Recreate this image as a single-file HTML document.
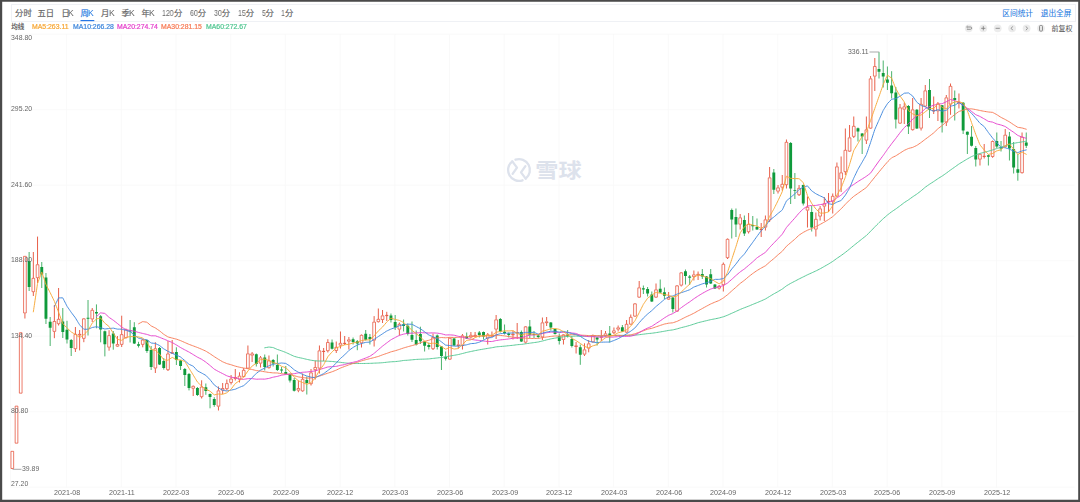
<!DOCTYPE html>
<html lang="zh"><head><meta charset="utf-8"><title>K线图</title><style>
html,body{margin:0;padding:0;background:#fff;}
body{width:1080px;height:502px;position:relative;overflow:hidden;font-family:"Liberation Sans",sans-serif;}
.tabbar{position:absolute;left:11px;top:4px;width:1064.6px;height:17.6px;border:0.8px solid #eff1f5;box-sizing:border-box;}
svg.chart{position:absolute;left:0;top:0;}
svg.chart text{font-family:"Liberation Sans","Noto Sans CJK SC",sans-serif;}
.t{position:absolute;white-space:nowrap;will-change:transform;}
.b{-webkit-text-stroke:0.22px currentColor;}
</style></head><body>
<div class="tabbar"></div>
<svg class="chart" width="1080" height="502" viewBox="0 0 1080 502">
<path fill="#4a4a4a" fill-rule="evenodd" d="M0 0H1080V502H0z M2.2 1.8V499.7H1078.2V1.8z"/>
<path d="M10.5 34.2 H1074.5 M10.5 109.7 H1074.5 M10.5 185.2 H1074.5 M10.5 260.7 H1074.5 M10.5 336.2 H1074.5 M10.5 411.7 H1074.5 M10.5 487.2 H1074.5 M66.6 34.2 V487.2 M121.3 34.2 V487.2 M176 34.2 V487.2 M230.7 34.2 V487.2 M285.4 34.2 V487.2 M340.1 34.2 V487.2 M394.8 34.2 V487.2 M449.5 34.2 V487.2 M504.2 34.2 V487.2 M558.9 34.2 V487.2 M613.6 34.2 V487.2 M668.3 34.2 V487.2 M723 34.2 V487.2 M777.7 34.2 V487.2 M832.4 34.2 V487.2 M887.1 34.2 V487.2 M941.8 34.2 V487.2 M996.5 34.2 V487.2" stroke="#f7f7f7" stroke-width="0.8" fill="none"/>
<path d="M10.5 34.2 V487.2" stroke="#f9f9f9" stroke-width="0.8" fill="none"/>
<g stroke="#dde2ec" fill="none" stroke-width="2.3" stroke-linecap="round" stroke-linejoin="round"><path d="M515.45 159.7 A10.9 10.9 0 0 1 525.7 178.6"/><path d="M522.55 180.3 A10.9 10.9 0 0 1 512.3 161.4"/><path d="M512.3 161.4 L517 167.6 L512.6 173.9"/><path d="M525.4 166.1 L521 172.4 L525.7 178.6"/></g>
<text transform="translate(535.3 177.6) scale(1.083 0.946)" x="0" y="0" font-size="21.4" font-weight="bold" fill="#dde2ec">雪球</text>
<path d="M24.92 313.3 V318.5 M33.34 252 V278 M33.34 292 V296 M37.54 236.6 V264.4 M37.54 278 V283 M54.37 305 V321.2 M54.37 331.7 V338.2 M58.58 288 V319 M58.58 324 V325.5 M75.41 327 V334 M75.41 349 V352 M79.62 330 V334 M79.62 335.4 V350.4 M83.82 318 V318.5 M83.82 338.7 V342.2 M92.24 308 V310 M92.24 319.3 V322 M109.07 330.2 V335.3 M109.07 347.5 V350.7 M117.48 336 V344.2 M117.48 346.5 V347 M121.69 315.7 V334.3 M121.69 344.7 V347 M125.9 328.5 V329.5 M125.9 338 V338.5 M142.73 339 V339.7 M142.73 344.7 V347.3 M155.35 342.2 V348.4 M155.35 368.4 V373 M167.97 341 V353.6 M167.97 370 V371 M172.18 340 V352.3 M172.18 353.6 V354 M193.21 385.5 V386 M193.21 388.6 V396 M201.63 380.3 V386.7 M201.63 397 V398.5 M218.46 386.5 V390.5 M218.46 406.5 V410.5 M222.67 383 V388.2 M222.67 390.5 V394 M226.87 379.5 V383.3 M226.87 389 V390.5 M231.08 375 V378.7 M231.08 382.8 V384.5 M235.29 369 V377.2 M235.29 378.8 V380.5 M239.49 372.3 V375.8 M239.49 379.5 V382.5 M243.7 368 V370 M243.7 376.8 V377.5 M247.91 345.5 V353.5 M247.91 368.5 V369 M252.12 352 V353.5 M252.12 355.5 V362 M260.53 356 V357.5 M260.53 363.5 V367.5 M268.95 355.5 V360.5 M268.95 368 V368.5 M298.4 380.5 V388.2 M298.4 390.5 V392.2 M302.6 373.5 V379 M302.6 391.2 V391.8 M311.02 369 V372.5 M311.02 384 V385.5 M315.23 360.5 V367.2 M315.23 370 V379.5 M319.43 345.5 V350.5 M319.43 368.5 V373.5 M323.64 348 V350.95 M323.64 351.85 V361 M327.85 339.2 V342.2 M327.85 351 V352.5 M336.26 341.5 V347 M336.26 350.8 V353 M340.47 331.5 V343 M340.47 345.5 V348.5 M344.68 336 V342.95 M344.68 343.85 V345 M348.88 337 V339.5 M348.88 341.5 V349.5 M361.51 334.5 V335 M361.51 343.2 V347.5 M374.13 316.1 V321.8 M374.13 340.5 V346.5 M378.34 308.5 V319 M378.34 322 V322.5 M382.54 310 V315.5 M382.54 319.8 V323 M386.75 311.8 V315 M386.75 316 V321 M399.37 322.5 V324 M399.37 329.5 V335.5 M433.03 333.5 V337.2 M433.03 349 V350 M449.86 337.5 V338 M449.86 359.5 V360 M458.27 340 V344.5 M458.27 345.8 V348.5 M462.48 334 V335.5 M462.48 345.8 V349.5 M470.9 332 V335 M470.9 337.5 V338.5 M475.1 332 V335 M475.1 336.5 V337.5 M487.72 333 V334.5 M487.72 338.5 V344.5 M491.93 331.5 V335.5 M491.93 336.5 V337 M496.14 315 V319.5 M496.14 329.5 V339 M512.97 330.5 V334 M512.97 335.2 V339.5 M517.18 323 V332.4 M517.18 333.3 V339 M525.59 326 V326.5 M525.59 342.5 V343.5 M542.42 317.5 V322.5 M542.42 337.2 V340 M546.63 317 V321.5 M546.63 323 V326 M563.46 334 V334.5 M563.46 339.8 V344.5 M576.08 342 V345.5 M576.08 346.8 V353.5 M584.49 343.3 V349.5 M584.49 354.5 V356 M588.7 340 V343.5 M588.7 348.5 V352.3 M592.91 334.5 V335.8 M592.91 342.2 V342.7 M601.32 330 V336.5 M601.32 337.5 V341 M605.53 331 V333.5 M605.53 336 V336.5 M613.94 327.5 V330.5 M613.94 333 V334 M618.15 325.5 V327.5 M618.15 329.5 V331.5 M626.57 320 V324 M626.57 332.5 V333 M630.77 314.5 V317 M630.77 324.5 V325 M634.98 303 V303.5 M634.98 316.5 V317 M639.19 281 V287.5 M639.19 297.5 V298 M656.02 283.5 V289.5 M656.02 297.5 V298 M668.64 292 V297.2 M668.64 299.5 V300 M677.05 285 V285.5 M677.05 311.5 V312 M681.26 272 V272.5 M681.26 285.5 V286.5 M693.88 270.5 V274.5 M693.88 277 V280.5 M698.09 271.5 V274 M698.09 275.5 V280 M719.13 285 V286 M719.13 288.5 V289.5 M723.33 262.5 V264 M723.33 285 V291.5 M727.54 238.5 V239 M727.54 258 V259 M740.16 214 V217.5 M740.16 224.5 V229.5 M748.58 213 V224 M748.58 232 V233.5 M761.2 223 V229 M761.2 230 V237 M765.41 215.5 V219.5 M765.41 227.5 V230.5 M769.61 167 V177.5 M769.61 220.3 V222 M778.03 185 V187.5 M778.03 191.5 V193.5 M782.24 175 V184 M782.24 187.5 V190.5 M786.44 139.5 V142 M786.44 185 V188.5 M799.07 185 V188 M799.07 195 V196 M807.48 196.5 V207 M807.48 210.5 V227.5 M815.89 212.5 V219 M815.89 229.5 V236.5 M820.1 206 V208.5 M820.1 216.5 V220.5 M824.31 197 V203.5 M824.31 206.5 V221 M828.52 193 V201 M828.52 202 V212 M832.72 193.5 V196 M832.72 201.5 V213.5 M836.93 162.5 V166.5 M836.93 196.5 V197 M841.14 156.5 V172.5 M841.14 179.3 V192 M845.35 128.5 V150 M845.35 172 V175 M849.55 125 V137.5 M849.55 151.5 V152 M853.76 116.5 V126 M853.76 136.7 V138 M866.38 116.5 V129.5 M866.38 140.5 V144 M870.59 76 V78.5 M870.59 128.5 V129 M874.8 58 V66.2 M874.8 76.5 V91 M900.04 104 V107.5 M900.04 123.5 V124 M904.25 102.5 V106.5 M904.25 109.5 V124 M912.66 98 V109.5 M912.66 130 V130.5 M921.08 98 V104 M921.08 128.5 V130.5 M925.28 85 V90.5 M925.28 106.5 V107 M933.7 96.5 V110 M933.7 111.2 V114 M937.91 102 V103.5 M937.91 111.2 V121 M946.32 95 V97.5 M946.32 122.5 V126 M950.53 83.5 V86 M950.53 104.5 V114.8 M958.94 93.5 V102 M958.94 103 V108.5 M979.98 153.5 V154 M979.98 159.5 V165.5 M984.19 144 V155.8 M984.19 156.8 V158.5 M992.6 140.5 V141.2 M992.6 156.8 V157.8 M1005.22 129 V134.8 M1005.22 147 V147.5 M1022.05 132.5 V136.8 M1022.05 173 V173.5" stroke="#e2361b" stroke-width="0.8" fill="none"/>
<path d="M10.96 451.33 h2.69 v17.14 h-2.69 z M15.16 406.13 h2.69 v37.04 h-2.69 z M19.37 332.73 h2.69 v60.44 h-2.69 z M23.58 256.33 h2.69 v56.64 h-2.69 z M31.99 278.33 h2.69 v13.34 h-2.69 z M36.2 264.73 h2.69 v12.94 h-2.69 z M53.03 321.53 h2.69 v9.84 h-2.69 z M57.24 319.33 h2.69 v4.34 h-2.69 z M74.06 334.33 h2.69 v14.34 h-2.69 z M78.27 334.33 h2.69 v0.74 h-2.69 z M82.48 318.83 h2.69 v19.54 h-2.69 z M90.89 310.33 h2.69 v8.64 h-2.69 z M107.72 335.63 h2.69 v11.54 h-2.69 z M116.14 344.53 h2.69 v1.64 h-2.69 z M120.34 334.63 h2.69 v9.74 h-2.69 z M124.55 329.83 h2.69 v7.84 h-2.69 z M141.38 340.03 h2.69 v4.34 h-2.69 z M154 348.73 h2.69 v19.34 h-2.69 z M166.63 353.93 h2.69 v15.74 h-2.69 z M170.83 352.63 h2.69 v0.64 h-2.69 z M191.87 386.33 h2.69 v1.94 h-2.69 z M200.28 387.03 h2.69 v9.64 h-2.69 z M217.11 390.83 h2.69 v15.34 h-2.69 z M221.32 388.53 h2.69 v1.64 h-2.69 z M225.53 383.63 h2.69 v5.04 h-2.69 z M229.73 379.03 h2.69 v3.44 h-2.69 z M233.94 377.53 h2.69 v0.94 h-2.69 z M238.15 376.13 h2.69 v3.04 h-2.69 z M242.36 370.33 h2.69 v6.14 h-2.69 z M246.56 353.83 h2.69 v14.34 h-2.69 z M250.77 353.83 h2.69 v1.34 h-2.69 z M259.19 357.83 h2.69 v5.34 h-2.69 z M267.6 360.83 h2.69 v6.84 h-2.69 z M297.05 388.53 h2.69 v1.64 h-2.69 z M301.26 379.33 h2.69 v11.54 h-2.69 z M309.67 372.83 h2.69 v10.84 h-2.69 z M313.88 367.53 h2.69 v2.14 h-2.69 z M318.09 350.83 h2.69 v17.34 h-2.69 z M322.3 351.28 h2.69 v0.24 h-2.69 z M326.5 342.53 h2.69 v8.14 h-2.69 z M334.92 347.33 h2.69 v3.14 h-2.69 z M339.12 343.33 h2.69 v1.84 h-2.69 z M343.33 343.28 h2.69 v0.24 h-2.69 z M347.54 339.83 h2.69 v1.34 h-2.69 z M360.16 335.33 h2.69 v7.54 h-2.69 z M372.78 322.13 h2.69 v18.04 h-2.69 z M376.99 319.33 h2.69 v2.34 h-2.69 z M381.2 315.83 h2.69 v3.64 h-2.69 z M385.4 315.33 h2.69 v0.34 h-2.69 z M398.03 324.33 h2.69 v4.84 h-2.69 z M431.69 337.53 h2.69 v11.14 h-2.69 z M448.51 338.33 h2.69 v20.84 h-2.69 z M456.93 344.83 h2.69 v0.64 h-2.69 z M461.14 335.83 h2.69 v9.64 h-2.69 z M469.55 335.33 h2.69 v1.84 h-2.69 z M473.76 335.33 h2.69 v0.84 h-2.69 z M486.38 334.83 h2.69 v3.34 h-2.69 z M490.59 335.83 h2.69 v0.34 h-2.69 z M494.79 319.83 h2.69 v9.34 h-2.69 z M511.62 334.33 h2.69 v0.54 h-2.69 z M515.83 332.73 h2.69 v0.24 h-2.69 z M524.25 326.83 h2.69 v15.34 h-2.69 z M541.07 322.83 h2.69 v14.04 h-2.69 z M545.28 321.83 h2.69 v0.84 h-2.69 z M562.11 334.83 h2.69 v4.64 h-2.69 z M574.73 345.83 h2.69 v0.64 h-2.69 z M583.15 349.83 h2.69 v4.34 h-2.69 z M587.36 343.83 h2.69 v4.34 h-2.69 z M591.56 336.13 h2.69 v5.74 h-2.69 z M599.98 336.83 h2.69 v0.34 h-2.69 z M604.18 333.83 h2.69 v1.84 h-2.69 z M612.6 330.83 h2.69 v1.84 h-2.69 z M616.81 327.83 h2.69 v1.34 h-2.69 z M625.22 324.33 h2.69 v7.84 h-2.69 z M629.43 317.33 h2.69 v6.84 h-2.69 z M633.64 303.83 h2.69 v12.34 h-2.69 z M637.84 287.83 h2.69 v9.34 h-2.69 z M654.67 289.83 h2.69 v7.34 h-2.69 z M667.29 297.53 h2.69 v1.64 h-2.69 z M675.71 285.83 h2.69 v25.34 h-2.69 z M679.92 272.83 h2.69 v12.34 h-2.69 z M692.54 274.83 h2.69 v1.84 h-2.69 z M696.74 274.33 h2.69 v0.84 h-2.69 z M717.78 286.33 h2.69 v1.84 h-2.69 z M721.99 264.33 h2.69 v20.34 h-2.69 z M726.2 239.33 h2.69 v18.34 h-2.69 z M738.82 217.83 h2.69 v6.34 h-2.69 z M747.23 224.33 h2.69 v7.34 h-2.69 z M759.85 229.33 h2.69 v0.34 h-2.69 z M764.06 219.83 h2.69 v7.34 h-2.69 z M768.27 177.83 h2.69 v42.14 h-2.69 z M776.68 187.83 h2.69 v3.34 h-2.69 z M780.89 184.33 h2.69 v2.84 h-2.69 z M785.1 142.33 h2.69 v42.34 h-2.69 z M797.72 188.33 h2.69 v6.34 h-2.69 z M806.13 207.33 h2.69 v2.84 h-2.69 z M814.55 219.33 h2.69 v9.84 h-2.69 z M818.76 208.83 h2.69 v7.34 h-2.69 z M822.96 203.83 h2.69 v2.34 h-2.69 z M827.17 201.33 h2.69 v0.34 h-2.69 z M831.38 196.33 h2.69 v4.84 h-2.69 z M835.59 166.83 h2.69 v29.34 h-2.69 z M839.79 172.83 h2.69 v6.14 h-2.69 z M844 150.33 h2.69 v21.34 h-2.69 z M848.21 137.83 h2.69 v13.34 h-2.69 z M852.42 126.33 h2.69 v10.04 h-2.69 z M865.04 129.83 h2.69 v10.34 h-2.69 z M869.24 78.83 h2.69 v49.34 h-2.69 z M873.45 66.53 h2.69 v9.64 h-2.69 z M898.7 107.83 h2.69 v15.34 h-2.69 z M902.9 106.83 h2.69 v2.34 h-2.69 z M911.32 109.83 h2.69 v19.84 h-2.69 z M919.73 104.33 h2.69 v23.84 h-2.69 z M923.94 90.83 h2.69 v15.34 h-2.69 z M932.35 110.33 h2.69 v0.54 h-2.69 z M936.56 103.83 h2.69 v7.04 h-2.69 z M944.98 97.83 h2.69 v24.34 h-2.69 z M949.18 86.33 h2.69 v17.84 h-2.69 z M957.6 102.33 h2.69 v0.34 h-2.69 z M978.63 154.33 h2.69 v4.84 h-2.69 z M982.84 156.13 h2.69 v0.34 h-2.69 z M991.26 141.53 h2.69 v14.94 h-2.69 z M1003.88 135.13 h2.69 v11.54 h-2.69 z M1020.71 137.13 h2.69 v35.54 h-2.69 z" stroke="#e2361b" stroke-width="0.66" fill="#fff"/>
<path d="M29.13 252 V291 M41.75 262 V288 M45.96 273 V324 M50.17 317 V346 M62.79 308 V338 M66.99 320.8 V343.5 M71.2 339 V356 M88.03 300 V335.5 M96.45 304.4 V328.3 M100.65 315 V342.3 M104.86 330.5 V356.4 M113.28 331 V349.7 M130.1 320 V342.5 M134.31 322.2 V344 M138.52 341.8 V347.5 M146.93 339.5 V352.9 M151.14 346 V370 M159.56 347 V365 M163.76 358 V369.6 M176.38 347.3 V365 M180.59 360 V370 M184.8 368 V386 M189.01 373 V390.4 M197.42 387 V396 M205.84 383.5 V394.8 M210.04 393.5 V408.3 M214.25 397.2 V406.8 M256.32 353.5 V366.5 M264.74 354.5 V370.5 M273.15 359 V366.5 M277.36 354.5 V371 M281.57 367 V373 M285.77 366 V374.5 M289.98 373.5 V382.5 M294.19 378 V391.5 M306.81 376.5 V394.5 M332.05 339.5 V349.5 M353.09 337.5 V344.5 M357.3 340 V350.2 M365.71 330 V340.5 M369.92 334 V344.5 M390.96 313.5 V322.5 M395.16 315 V330 M403.58 319.5 V331.5 M407.79 323.5 V335.5 M411.99 321.5 V342 M416.2 330.5 V345.5 M420.41 326.7 V344 M424.62 341 V351.5 M428.82 342.5 V349.5 M437.24 334.5 V349.5 M441.44 346 V370 M445.65 351.5 V360.5 M454.07 338 V346 M466.69 332.5 V339 M479.31 331 V337.5 M483.52 331.5 V339.5 M500.35 318 V332.5 M504.55 324.5 V334.5 M508.76 332.5 V337.5 M521.38 330.5 V342 M529.8 320 V338.5 M534.01 331 V338 M538.21 334 V338.5 M550.83 322 V330.5 M555.04 328.5 V334.5 M559.25 333.5 V344.5 M567.66 330 V337.5 M571.87 336 V347.5 M580.29 344.5 V364.8 M597.11 337 V345.5 M609.74 326 V342.5 M622.36 325 V332 M643.39 285.5 V294 M647.6 287 V296.5 M651.81 291.5 V302 M660.22 279.5 V293 M664.43 287.5 V299 M672.85 297 V312.5 M685.47 269.5 V284.5 M689.68 275 V285 M702.3 269 V279 M706.5 276 V287.5 M710.71 269 V284 M714.92 284 V289 M731.75 208.5 V238.5 M735.96 208.5 V237 M744.37 215.5 V236 M752.78 216 V230.5 M756.99 218.5 V230 M773.82 169 V194 M790.65 142 V204 M794.86 173 V199 M803.27 184.5 V205.5 M811.69 206 V231.5 M857.97 127.5 V141.5 M862.17 133 V154 M879 52.2 V78.5 M883.21 60.5 V87.5 M887.42 66.5 V90 M891.63 71.2 V98.5 M895.83 87 V128.5 M908.45 105 V134 M916.87 109 V129 M929.49 79 V118 M942.11 105 V132.5 M954.74 90.5 V120.5 M963.15 102 V134 M967.36 131.5 V154 M971.56 126 V146.5 M975.77 146 V166.5 M988.39 154.5 V165.5 M996.81 132.5 V148 M1001.02 141 V151.5 M1009.43 132 V160.5 M1013.64 142 V173.5 M1017.84 154 V180.7 M1026.26 132.5 V148" stroke="#0f9a3b" stroke-width="0.75" fill="none"/>
<path d="M27.68 261 h2.9 v26 h-2.9 z M40.3 267 h2.9 v7.4 h-2.9 z M44.51 277.4 h2.9 v41.4 h-2.9 z M48.72 321.7 h2.9 v6 h-2.9 z M61.34 321.5 h2.9 v10.5 h-2.9 z M65.54 329.7 h2.9 v9.8 h-2.9 z M69.75 340 h2.9 v8 h-2.9 z M86.58 317.75 h2.9 v0.9 h-2.9 z M95 312 h2.9 v1.6 h-2.9 z M99.2 316.3 h2.9 v13.2 h-2.9 z M103.41 331.3 h2.9 v12.9 h-2.9 z M111.83 333.5 h2.9 v10 h-2.9 z M128.65 330.5 h2.9 v1 h-2.9 z M132.86 327.2 h2.9 v16.3 h-2.9 z M137.07 344.3 h2.9 v1.5 h-2.9 z M145.48 340 h2.9 v11 h-2.9 z M149.69 350 h2.9 v17 h-2.9 z M158.11 348.1 h2.9 v16.3 h-2.9 z M162.31 361 h2.9 v7 h-2.9 z M174.93 352 h2.9 v8 h-2.9 z M179.14 360.6 h2.9 v5.4 h-2.9 z M183.35 369 h2.9 v6 h-2.9 z M187.56 374 h2.9 v14 h-2.9 z M195.97 388 h2.9 v7 h-2.9 z M204.39 387.3 h2.9 v3.6 h-2.9 z M208.59 394.1 h2.9 v2.9 h-2.9 z M212.8 399 h2.9 v5.9 h-2.9 z M254.87 354.2 h2.9 v9.8 h-2.9 z M263.29 357.5 h2.9 v9.5 h-2.9 z M271.7 360 h2.9 v3.5 h-2.9 z M275.91 365 h2.9 v5 h-2.9 z M280.12 369.5 h2.9 v1 h-2.9 z M284.32 371.9 h2.9 v2.1 h-2.9 z M288.53 374.2 h2.9 v6.3 h-2.9 z M292.74 380 h2.9 v10.8 h-2.9 z M305.36 380 h2.9 v3 h-2.9 z M330.6 342.5 h2.9 v6.3 h-2.9 z M351.64 339.2 h2.9 v2.8 h-2.9 z M355.85 341.2 h2.9 v2.3 h-2.9 z M364.26 333.8 h2.9 v6 h-2.9 z M368.47 337 h2.9 v2 h-2.9 z M389.51 315.5 h2.9 v4.5 h-2.9 z M393.71 322 h2.9 v5.5 h-2.9 z M402.13 324.3 h2.9 v1.7 h-2.9 z M406.34 325.7 h2.9 v8.3 h-2.9 z M410.54 335 h2.9 v4.8 h-2.9 z M414.75 340 h2.9 v4.5 h-2.9 z M418.96 334 h2.9 v7.3 h-2.9 z M423.17 341.5 h2.9 v4.3 h-2.9 z M427.37 345 h2.9 v2 h-2.9 z M435.79 335.5 h2.9 v11.5 h-2.9 z M439.99 346.5 h2.9 v9.5 h-2.9 z M444.2 356.8 h2.9 v2 h-2.9 z M452.62 338.5 h2.9 v7 h-2.9 z M465.24 336.5 h2.9 v2 h-2.9 z M477.86 332.5 h2.9 v2.5 h-2.9 z M482.07 332 h2.9 v4.5 h-2.9 z M498.9 319 h2.9 v12.5 h-2.9 z M503.1 331.8 h2.9 v1.4 h-2.9 z M507.31 333.5 h2.9 v1.5 h-2.9 z M519.93 332 h2.9 v9.5 h-2.9 z M528.35 326.5 h2.9 v8.3 h-2.9 z M532.56 334 h2.9 v1 h-2.9 z M536.76 335.5 h2.9 v1.5 h-2.9 z M549.38 322.5 h2.9 v5 h-2.9 z M553.59 329 h2.9 v5 h-2.9 z M557.8 336.2 h2.9 v4.8 h-2.9 z M566.21 334.5 h2.9 v1.7 h-2.9 z M570.42 339 h2.9 v7 h-2.9 z M578.84 347.2 h2.9 v7.6 h-2.9 z M595.66 337.5 h2.9 v2 h-2.9 z M608.29 333.5 h2.9 v2.3 h-2.9 z M620.91 327.2 h2.9 v4.3 h-2.9 z M641.94 288.2 h2.9 v1.3 h-2.9 z M646.15 289 h2.9 v4.5 h-2.9 z M650.36 294.5 h2.9 v7 h-2.9 z M658.77 288.8 h2.9 v3.7 h-2.9 z M662.98 292.2 h2.9 v3.6 h-2.9 z M671.4 297.5 h2.9 v11.5 h-2.9 z M684.02 271.2 h2.9 v4.8 h-2.9 z M688.23 276.5 h2.9 v1.3 h-2.9 z M700.85 274 h2.9 v2.5 h-2.9 z M705.05 276.5 h2.9 v8 h-2.9 z M709.26 274.2 h2.9 v9.3 h-2.9 z M713.47 284.5 h2.9 v4 h-2.9 z M730.3 210 h2.9 v9.5 h-2.9 z M734.51 217 h2.9 v7.5 h-2.9 z M742.92 220 h2.9 v13.5 h-2.9 z M751.33 225 h2.9 v1.2 h-2.9 z M755.54 227 h2.9 v2.5 h-2.9 z M772.37 172.5 h2.9 v17.3 h-2.9 z M789.2 143 h2.9 v45.5 h-2.9 z M793.41 189.95 h2.9 v0.9 h-2.9 z M801.82 185 h2.9 v18.5 h-2.9 z M810.24 212 h2.9 v15.5 h-2.9 z M856.52 128.2 h2.9 v3.3 h-2.9 z M860.72 133.5 h2.9 v3 h-2.9 z M877.55 69 h2.9 v2.8 h-2.9 z M881.76 73 h2.9 v3.5 h-2.9 z M885.97 79.5 h2.9 v3.3 h-2.9 z M890.18 85.5 h2.9 v7.8 h-2.9 z M894.38 92.5 h2.9 v27 h-2.9 z M907 106 h2.9 v20.5 h-2.9 z M915.42 109.8 h2.9 v18.7 h-2.9 z M928.04 90 h2.9 v20 h-2.9 z M940.66 105.3 h2.9 v17.2 h-2.9 z M953.29 98 h2.9 v2 h-2.9 z M961.7 102.8 h2.9 v27.7 h-2.9 z M965.91 131.8 h2.9 v3 h-2.9 z M970.11 136.8 h2.9 v9 h-2.9 z M974.32 148 h2.9 v11.5 h-2.9 z M986.94 155.2 h2.9 v1.6 h-2.9 z M995.36 141 h2.9 v5.5 h-2.9 z M999.57 147 h2.9 v1.5 h-2.9 z M1007.98 136.5 h2.9 v12 h-2.9 z M1012.19 149 h2.9 v18.5 h-2.9 z M1016.39 169.2 h2.9 v3.6 h-2.9 z M1024.81 142.5 h2.9 v3.3 h-2.9 z" fill="#0f9a3b"/>
<path d="M264.74 347.79 C264.74 347.79 268.95 347.03 268.95 347.03 C268.95 347.03 273.15 347.55 273.15 347.55 C273.15 347.55 277.36 349.45 277.36 349.45 C277.36 349.45 281.57 350.84 281.57 350.84 C281.57 350.84 285.77 352.44 285.77 352.44 C285.77 352.44 289.98 354.38 289.98 354.38 C289.98 354.38 294.19 356.32 294.19 356.32 C294.19 356.32 298.4 357.48 298.4 357.48 C298.4 357.48 302.6 358.33 302.6 358.33 C302.6 358.33 306.81 359.36 306.81 359.36 C306.81 359.36 311.02 360.25 311.02 360.25 C311.02 360.25 315.23 360.84 315.23 360.84 C315.23 360.84 319.43 361.02 319.43 361.02 C319.43 361.02 323.64 361.07 323.64 361.07 C323.64 361.07 327.85 361.21 327.85 361.21 C327.85 361.21 332.05 361.45 332.05 361.45 C332.05 361.45 336.26 361.93 336.26 361.93 C336.26 361.93 340.47 362.34 340.47 362.34 C340.47 362.34 344.68 362.89 344.68 362.89 C344.68 362.89 348.88 363.32 348.88 363.32 C348.88 363.32 353.09 363.53 353.09 363.53 C353.09 363.53 357.3 363.52 357.3 363.52 C357.3 363.52 361.51 363.51 361.51 363.51 C361.51 363.51 365.71 363.45 365.71 363.45 C365.71 363.45 369.92 363.36 369.92 363.36 C369.92 363.36 374.13 363.15 374.13 363.15 C374.13 363.15 378.34 362.98 378.34 362.98 C378.34 362.98 382.54 362.71 382.54 362.71 C382.54 362.71 386.75 362.24 386.75 362.24 C386.75 362.24 390.96 361.81 390.96 361.81 C390.96 361.81 395.16 361.6 395.16 361.6 C395.16 361.6 399.37 361.15 399.37 361.15 C399.37 361.15 403.58 360.47 403.58 360.47 C403.58 360.47 407.79 360.23 407.79 360.23 C407.79 360.23 411.99 359.82 411.99 359.82 C411.99 359.82 416.2 359.43 416.2 359.43 C416.2 359.43 420.41 359.22 420.41 359.22 C420.41 359.22 424.62 359.12 424.62 359.12 C424.62 359.12 428.82 358.9 428.82 358.9 C428.82 358.9 433.03 358.42 433.03 358.42 C433.03 358.42 437.24 357.95 437.24 357.95 C437.24 357.95 441.44 357.42 441.44 357.42 C441.44 357.42 445.65 356.97 445.65 356.97 C445.65 356.97 449.86 356.02 449.86 356.02 C449.86 356.02 454.07 355.33 454.07 355.33 C454.07 355.33 458.27 354.56 458.27 354.56 C458.27 354.56 462.48 353.53 462.48 353.53 C462.48 353.53 466.69 352.42 466.69 352.42 C466.69 352.42 470.9 351.5 470.9 351.5 C470.9 351.5 475.1 350.61 475.1 350.61 C475.1 350.61 479.31 349.81 479.31 349.81 C479.31 349.81 483.52 349.1 483.52 349.1 C483.52 349.1 487.72 348.39 487.72 348.39 C487.72 348.39 491.93 347.72 491.93 347.72 C491.93 347.72 496.14 346.88 496.14 346.88 C496.14 346.88 500.35 346.51 500.35 346.51 C500.35 346.51 504.55 346.17 504.55 346.17 C504.55 346.17 508.76 345.69 508.76 345.69 C508.76 345.69 512.97 345.3 512.97 345.3 C512.97 345.3 517.18 344.72 517.18 344.72 C517.18 344.72 521.38 344.41 521.38 344.41 C521.38 344.41 525.59 343.79 525.59 343.79 C525.59 343.79 529.8 343.2 529.8 343.2 C529.8 343.2 534.01 342.61 534.01 342.61 C534.01 342.61 538.21 342 538.21 342 C538.21 342 542.42 341.03 542.42 341.03 C542.42 341.03 546.63 339.87 546.63 339.87 C546.63 339.87 550.83 338.86 550.83 338.86 C550.83 338.86 555.04 338.11 555.04 338.11 C555.04 338.11 559.25 337.41 559.25 337.41 C559.25 337.41 563.46 336.78 563.46 336.78 C563.46 336.78 567.66 336.26 567.66 336.26 C567.66 336.26 571.87 336.19 571.87 336.19 C571.87 336.19 576.08 336.1 576.08 336.1 C576.08 336.1 580.29 336.31 580.29 336.31 C580.29 336.31 584.49 336.32 584.49 336.32 C584.49 336.32 588.7 336.26 588.7 336.26 C588.7 336.26 592.91 336.14 592.91 336.14 C592.91 336.14 597.11 336.08 597.11 336.08 C597.11 336.08 601.32 336.03 601.32 336.03 C601.32 336.03 605.53 335.89 605.53 335.89 C605.53 335.89 609.74 335.76 609.74 335.76 C609.74 335.76 613.94 335.69 613.94 335.69 C613.94 335.69 618.15 335.48 618.15 335.48 C618.15 335.48 622.36 335.35 622.36 335.35 C622.36 335.35 626.57 335.39 626.57 335.39 C626.57 335.39 630.77 335.36 630.77 335.36 C630.77 335.36 634.98 335.16 634.98 335.16 C634.98 335.16 639.19 334.7 639.19 334.7 C639.19 334.7 643.39 334.19 643.39 334.19 C643.39 334.19 647.6 333.62 647.6 333.62 C647.6 333.62 651.81 333.25 651.81 333.25 C651.81 333.25 656.02 332.64 656.02 332.64 C656.02 332.64 660.22 331.95 660.22 331.95 C660.22 331.95 664.43 331.22 664.43 331.22 C664.43 331.22 668.64 330.43 668.64 330.43 C668.64 330.43 672.85 329.89 672.85 329.89 C672.85 329.89 677.05 328.88 677.05 328.88 C677.05 328.88 681.26 327.64 681.26 327.64 C681.26 327.64 685.47 326.62 685.47 326.62 C685.47 326.62 689.68 325.47 689.68 325.47 C689.68 325.47 693.88 324.11 693.88 324.11 C693.88 324.11 698.09 322.7 698.09 322.7 C698.09 322.7 702.3 321.67 702.3 321.67 C702.3 321.67 706.5 320.66 706.5 320.66 C706.5 320.66 710.71 319.64 710.71 319.64 C710.71 319.64 714.92 318.86 714.92 318.86 C714.92 318.86 719.13 317.98 719.13 317.98 C719.13 317.98 723.33 316.8 723.33 316.8 C723.33 316.8 727.54 315.2 727.54 315.2 C727.54 315.2 731.75 313.27 731.75 313.27 C731.75 313.27 735.96 311.41 735.96 311.41 C735.96 311.41 740.16 309.46 740.16 309.46 C740.16 309.46 744.37 307.76 744.37 307.76 C744.37 307.76 748.58 306.17 748.58 306.17 C748.58 306.17 752.78 304.41 752.78 304.41 C752.78 304.41 756.99 302.68 756.99 302.68 C756.99 302.68 761.2 300.92 761.2 300.92 C761.2 300.92 765.41 299.01 765.41 299.01 C765.41 299.01 769.61 296.42 769.61 296.42 C769.61 296.42 773.82 293.9 773.82 293.9 C773.82 293.9 778.03 291.58 778.03 291.58 C778.03 291.58 782.24 289.06 782.24 289.06 C782.24 289.06 786.44 285.85 786.44 285.85 C786.44 285.85 790.65 283.37 790.65 283.37 C790.65 283.37 794.86 281.18 794.86 281.18 C794.86 281.18 799.07 278.95 799.07 278.95 C799.07 278.95 803.27 276.89 803.27 276.89 C803.27 276.89 807.48 274.77 807.48 274.77 C807.48 274.77 811.69 272.88 811.69 272.88 C811.69 272.88 815.89 270.95 815.89 270.95 C815.89 270.95 820.1 268.82 820.1 268.82 C820.1 268.82 824.31 266.45 824.31 266.45 C824.31 266.45 828.52 264.04 828.52 264.04 C828.52 264.04 832.72 261.4 832.72 261.4 C832.72 261.4 836.93 258.35 836.93 258.35 C836.93 258.35 841.14 255.5 841.14 255.5 C841.14 255.5 845.35 252.4 845.35 252.4 C845.35 252.4 849.55 249.03 849.55 249.03 C849.55 249.03 853.76 245.52 853.76 245.52 C853.76 245.52 857.97 242.16 857.97 242.16 C857.97 242.16 862.17 238.84 862.17 238.84 C862.17 238.84 866.38 235.49 866.38 235.49 C866.38 235.49 870.59 231.34 870.59 231.34 C870.59 231.34 874.8 226.91 874.8 226.91 C874.8 226.91 879 222.71 879 222.71 C879 222.71 883.21 218.7 883.21 218.7 C883.21 218.7 887.42 215.02 887.42 215.02 C887.42 215.02 891.63 211.79 891.63 211.79 C891.63 211.79 895.83 208.95 895.83 208.95 C895.83 208.95 900.04 205.85 900.04 205.85 C900.04 205.85 904.25 202.6 904.25 202.6 C904.25 202.6 908.45 199.89 908.45 199.89 C908.45 199.89 912.66 196.84 912.66 196.84 C912.66 196.84 916.87 194.05 916.87 194.05 C916.87 194.05 921.08 190.83 921.08 190.83 C921.08 190.83 925.28 187.19 925.28 187.19 C925.28 187.19 929.49 184.26 929.49 184.26 C929.49 184.26 933.7 181.55 933.7 181.55 C933.7 181.55 937.91 178.68 937.91 178.68 C937.91 178.68 942.11 176.09 942.11 176.09 C942.11 176.09 946.32 173.14 946.32 173.14 C946.32 173.14 950.53 170.01 950.53 170.01 C950.53 170.01 954.74 167.06 954.74 167.06 C954.74 167.06 958.94 164.02 958.94 164.02 C958.94 164.02 963.15 161.47 963.15 161.47 C963.15 161.47 967.36 158.91 967.36 158.91 C967.36 158.91 971.56 156.57 971.56 156.57 C971.56 156.57 975.77 154.83 975.77 154.83 C975.77 154.83 979.98 153.42 979.98 153.42 C979.98 153.42 984.19 152.35 984.19 152.35 C984.19 152.35 988.39 151.23 988.39 151.23 C988.39 151.23 992.6 149.95 992.6 149.95 C992.6 149.95 996.81 148.5 996.81 148.5 C996.81 148.5 1001.02 147.25 1001.02 147.25 C1001.02 147.25 1005.22 145.72 1005.22 145.72 C1005.22 145.72 1009.43 144.37 1009.43 144.37 C1009.43 144.37 1013.64 143.35 1013.64 143.35 C1013.64 143.35 1017.84 142.57 1017.84 142.57 C1017.84 142.57 1022.05 141.89 1022.05 141.89 C1022.05 141.89 1026.26 141.16 1026.26 141.16" stroke="#52c792" stroke-width="0.95" fill="none" stroke-linejoin="round" stroke-linecap="round"/>
<path d="M138.52 323.81 C138.52 323.81 142.73 321.6 142.73 321.6 C142.73 321.6 146.93 322.22 146.93 322.22 C146.93 322.22 151.14 325.92 151.14 325.92 C151.14 325.92 155.35 327.97 155.35 327.97 C155.35 327.97 159.56 330.85 159.56 330.85 C159.56 330.85 163.76 334.3 163.76 334.3 C163.76 334.3 167.97 336.94 167.97 336.94 C167.97 336.94 172.18 338.06 172.18 338.06 C172.18 338.06 176.38 339.14 176.38 339.14 C176.38 339.14 180.59 340.63 180.59 340.63 C180.59 340.63 184.8 342.5 184.8 342.5 C184.8 342.5 189.01 344.36 189.01 344.36 C189.01 344.36 193.21 345.91 193.21 345.91 C193.21 345.91 197.42 347.48 197.42 347.48 C197.42 347.48 201.63 349.24 201.63 349.24 C201.63 349.24 205.84 351.13 205.84 351.13 C205.84 351.13 210.04 353.75 210.04 353.75 C210.04 353.75 214.25 356.63 214.25 356.63 C214.25 356.63 218.46 359.31 218.46 359.31 C218.46 359.31 222.67 361.8 222.67 361.8 C222.67 361.8 226.87 363.59 226.87 363.59 C226.87 363.59 231.08 364.74 231.08 364.74 C231.08 364.74 235.29 366.14 235.29 366.14 C235.29 366.14 239.49 367.21 239.49 367.21 C239.49 367.21 243.7 368.07 243.7 368.07 C243.7 368.07 247.91 368.71 247.91 368.71 C247.91 368.71 252.12 369.51 252.12 369.51 C252.12 369.51 256.32 370.6 256.32 370.6 C256.32 370.6 260.53 371.06 260.53 371.06 C260.53 371.06 264.74 371.77 264.74 371.77 C264.74 371.77 268.95 372.46 268.95 372.46 C268.95 372.46 273.15 372.88 273.15 372.88 C273.15 372.88 277.36 372.98 277.36 372.98 C277.36 372.98 281.57 373.72 281.57 373.72 C281.57 373.72 285.77 374.04 285.77 374.04 C285.77 374.04 289.98 374.45 289.98 374.45 C289.98 374.45 294.19 375.69 294.19 375.69 C294.19 375.69 298.4 376.89 298.4 376.89 C298.4 376.89 302.6 377.52 302.6 377.52 C302.6 377.52 306.81 378.09 306.81 378.09 C306.81 378.09 311.02 378.01 311.02 378.01 C311.02 378.01 315.23 377.31 315.23 377.31 C315.23 377.31 319.43 376.13 319.43 376.13 C319.43 376.13 323.64 374.66 323.64 374.66 C323.64 374.66 327.85 373.18 327.85 373.18 C327.85 373.18 332.05 371.78 332.05 371.78 C332.05 371.78 336.26 370.11 336.26 370.11 C336.26 370.11 340.47 368.05 340.47 368.05 C340.47 368.05 344.68 366.46 344.68 366.46 C344.68 366.46 348.88 364.84 348.88 364.84 C348.88 364.84 353.09 363.46 353.09 363.46 C353.09 363.46 357.3 362.29 357.3 362.29 C357.3 362.29 361.51 360.88 361.51 360.88 C361.51 360.88 365.71 359.68 365.71 359.68 C365.71 359.68 369.92 358.65 369.92 358.65 C369.92 358.65 374.13 357.59 374.13 357.59 C374.13 357.59 378.34 356.44 378.34 356.44 C378.34 356.44 382.54 354.83 382.54 354.83 C382.54 354.83 386.75 353.41 386.75 353.41 C386.75 353.41 390.96 351.84 390.96 351.84 C390.96 351.84 395.16 350.74 395.16 350.74 C395.16 350.74 399.37 349.43 399.37 349.43 C399.37 349.43 403.58 347.96 403.58 347.96 C403.58 347.96 407.79 346.74 407.79 346.74 C407.79 346.74 411.99 345.6 411.99 345.6 C411.99 345.6 416.2 344.4 416.2 344.4 C416.2 344.4 420.41 342.75 420.41 342.75 C420.41 342.75 424.62 341.34 424.62 341.34 C424.62 341.34 428.82 340.27 428.82 340.27 C428.82 340.27 433.03 338.75 433.03 338.75 C433.03 338.75 437.24 337.9 437.24 337.9 C437.24 337.9 441.44 337.52 441.44 337.52 C441.44 337.52 445.65 337.8 445.65 337.8 C445.65 337.8 449.86 337.37 449.86 337.37 C449.86 337.37 454.07 337.48 454.07 337.48 C454.07 337.48 458.27 337.33 458.27 337.33 C458.27 337.33 462.48 336.95 462.48 336.95 C462.48 336.95 466.69 336.8 466.69 336.8 C466.69 336.8 470.9 336.53 470.9 336.53 C470.9 336.53 475.1 336.38 475.1 336.38 C475.1 336.38 479.31 336.15 479.31 336.15 C479.31 336.15 483.52 335.92 483.52 335.92 C483.52 335.92 487.72 335.9 487.72 335.9 C487.72 335.9 491.93 335.76 491.93 335.76 C491.93 335.76 496.14 335.11 496.14 335.11 C496.14 335.11 500.35 335.43 500.35 335.43 C500.35 335.43 504.55 335.9 504.55 335.9 C504.55 335.9 508.76 336.55 508.76 336.55 C508.76 336.55 512.97 337.19 512.97 337.19 C512.97 337.19 517.18 337.6 517.18 337.6 C517.18 337.6 521.38 338.07 521.38 338.07 C521.38 338.07 525.59 338.15 525.59 338.15 C525.59 338.15 529.8 338.45 529.8 338.45 C529.8 338.45 534.01 338.48 534.01 338.48 C534.01 338.48 538.21 338.39 538.21 338.39 C538.21 338.39 542.42 337.65 542.42 337.65 C542.42 337.65 546.63 336.99 546.63 336.99 C546.63 336.99 550.83 336.38 550.83 336.38 C550.83 336.38 555.04 335.95 555.04 335.95 C555.04 335.95 559.25 336.08 559.25 336.08 C559.25 336.08 563.46 335.66 563.46 335.66 C563.46 335.66 567.66 335 567.66 335 C567.66 335 571.87 334.57 571.87 334.57 C571.87 334.57 576.08 334.82 576.08 334.82 C576.08 334.82 580.29 335.13 580.29 335.13 C580.29 335.13 584.49 335.3 584.49 335.3 C584.49 335.3 588.7 335.57 588.7 335.57 C588.7 335.57 592.91 335.48 592.91 335.48 C592.91 335.48 597.11 335.63 597.11 335.63 C597.11 335.63 601.32 335.68 601.32 335.68 C601.32 335.68 605.53 335.63 605.53 335.63 C605.53 335.63 609.74 335.6 609.74 335.6 C609.74 335.6 613.94 335.47 613.94 335.47 C613.94 335.47 618.15 335.2 618.15 335.2 C618.15 335.2 622.36 335.6 622.36 335.6 C622.36 335.6 626.57 335.35 626.57 335.35 C626.57 335.35 630.77 334.81 630.77 334.81 C630.77 334.81 634.98 333.76 634.98 333.76 C634.98 333.76 639.19 332.21 639.19 332.21 C639.19 332.21 643.39 330.78 643.39 330.78 C643.39 330.78 647.6 329.18 647.6 329.18 C647.6 329.18 651.81 328.35 651.81 328.35 C651.81 328.35 656.02 326.84 656.02 326.84 C656.02 326.84 660.22 325.42 660.22 325.42 C660.22 325.42 664.43 324.05 664.43 324.05 C664.43 324.05 668.64 323.2 668.64 323.2 C668.64 323.2 672.85 322.79 672.85 322.79 C672.85 322.79 677.05 321.39 677.05 321.39 C677.05 321.39 681.26 319.34 681.26 319.34 C681.26 319.34 685.47 317.17 685.47 317.17 C685.47 317.17 689.68 315.28 689.68 315.28 C689.68 315.28 693.88 313.22 693.88 313.22 C693.88 313.22 698.09 310.82 698.09 310.82 C698.09 310.82 702.3 308.52 702.3 308.52 C702.3 308.52 706.5 306.18 706.5 306.18 C706.5 306.18 710.71 303.98 710.71 303.98 C710.71 303.98 714.92 302.15 714.92 302.15 C714.92 302.15 719.13 300.49 719.13 300.49 C719.13 300.49 723.33 297.97 723.33 297.97 C723.33 297.97 727.54 294.72 727.54 294.72 C727.54 294.72 731.75 290.92 731.75 290.92 C731.75 290.92 735.96 287.21 735.96 287.21 C735.96 287.21 740.16 283.44 740.16 283.44 C740.16 283.44 744.37 280.31 744.37 280.31 C744.37 280.31 748.58 276.73 748.58 276.73 C748.58 276.73 752.78 273.47 752.78 273.47 C752.78 273.47 756.99 270.55 756.99 270.55 C756.99 270.55 761.2 268.07 761.2 268.07 C761.2 268.07 765.41 265.8 765.41 265.8 C765.41 265.8 769.61 262.07 769.61 262.07 C769.61 262.07 773.82 258.61 773.82 258.61 C773.82 258.61 778.03 254.81 778.03 254.81 C778.03 254.81 782.24 251.29 782.24 251.29 C782.24 251.29 786.44 246.28 786.44 246.28 C786.44 246.28 790.65 242.7 790.65 242.7 C790.65 242.7 794.86 239.15 794.86 239.15 C794.86 239.15 799.07 235.12 799.07 235.12 C799.07 235.12 803.27 232.39 803.27 232.39 C803.27 232.39 807.48 230.2 807.48 230.2 C807.48 230.2 811.69 228.59 811.69 228.59 C811.69 228.59 815.89 226.63 815.89 226.63 C815.89 226.63 820.1 224.43 820.1 224.43 C820.1 224.43 824.31 222.08 824.31 222.08 C824.31 222.08 828.52 219.56 828.52 219.56 C828.52 219.56 832.72 216.61 832.72 216.61 C832.72 216.61 836.93 212.71 836.93 212.71 C836.93 212.71 841.14 208.84 841.14 208.84 C841.14 208.84 845.35 204.31 845.35 204.31 C845.35 204.31 849.55 200.09 849.55 200.09 C849.55 200.09 853.76 196.33 853.76 196.33 C853.76 196.33 857.97 193.39 857.97 193.39 C857.97 193.39 862.17 190.46 862.17 190.46 C862.17 190.46 866.38 187.53 866.38 187.53 C866.38 187.53 870.59 182.36 870.59 182.36 C870.59 182.36 874.8 177.1 874.8 177.1 C874.8 177.1 879 171.95 879 171.95 C879 171.95 883.21 166.85 883.21 166.85 C883.21 166.85 887.42 161.98 887.42 161.98 C887.42 161.98 891.63 157.77 891.63 157.77 C891.63 157.77 895.83 155.84 895.83 155.84 C895.83 155.84 900.04 153.1 900.04 153.1 C900.04 153.1 904.25 150.4 904.25 150.4 C904.25 150.4 908.45 148.48 908.45 148.48 C908.45 148.48 912.66 147.4 912.66 147.4 C912.66 147.4 916.87 145.4 916.87 145.4 C916.87 145.4 921.08 142.5 921.08 142.5 C921.08 142.5 925.28 139.25 925.28 139.25 C925.28 139.25 929.49 136.14 929.49 136.14 C929.49 136.14 933.7 132.9 933.7 132.9 C933.7 132.9 937.91 128.77 937.91 128.77 C937.91 128.77 942.11 125.55 942.11 125.55 C942.11 125.55 946.32 121.85 946.32 121.85 C946.32 121.85 950.53 117.94 950.53 117.94 C950.53 117.94 954.74 114.57 954.74 114.57 C954.74 114.57 958.94 111.44 958.94 111.44 C958.94 111.44 963.15 110.24 963.15 110.24 C963.15 110.24 967.36 108.98 967.36 108.98 C967.36 108.98 971.56 108.84 971.56 108.84 C971.56 108.84 975.77 109.57 975.77 109.57 C975.77 109.57 979.98 110.51 979.98 110.51 C979.98 110.51 984.19 111.32 984.19 111.32 C984.19 111.32 988.39 111.99 988.39 111.99 C988.39 111.99 992.6 112.38 992.6 112.38 C992.6 112.38 996.81 114.65 996.81 114.65 C996.81 114.65 1001.02 117.39 1001.02 117.39 C1001.02 117.39 1005.22 119.49 1005.22 119.49 C1005.22 119.49 1009.43 121.89 1009.43 121.89 C1009.43 121.89 1013.64 124.72 1013.64 124.72 C1013.64 124.72 1017.84 127.37 1017.84 127.37 C1017.84 127.37 1022.05 127.94 1022.05 127.94 C1022.05 127.94 1026.26 129.22 1026.26 129.22" stroke="#f77a55" stroke-width="0.95" fill="none" stroke-linejoin="round" stroke-linecap="round"/>
<path d="M96.45 316.64 C96.45 316.64 100.65 312.83 100.65 312.83 C100.65 312.83 104.86 313.42 104.86 313.42 C104.86 313.42 109.07 317.38 109.07 317.38 C109.07 317.38 113.28 320.21 113.28 320.21 C113.28 320.21 117.48 323.52 117.48 323.52 C117.48 323.52 121.69 327.01 121.69 327.01 C121.69 327.01 125.9 329.77 125.9 329.77 C125.9 329.77 130.1 330.41 130.1 330.41 C130.1 330.41 134.31 331.19 134.31 331.19 C134.31 331.19 138.52 332.43 138.52 332.43 C138.52 332.43 142.73 333.46 142.73 333.46 C142.73 333.46 146.93 334.41 146.93 334.41 C146.93 334.41 151.14 335.78 151.14 335.78 C151.14 335.78 155.35 335.81 155.35 335.81 C155.35 335.81 159.56 337.32 159.56 337.32 C159.56 337.32 163.76 339.02 163.76 339.02 C163.76 339.02 167.97 340.78 167.97 340.78 C167.97 340.78 172.18 342.47 172.18 342.47 C172.18 342.47 176.38 344.97 176.38 344.97 C176.38 344.97 180.59 347.58 180.59 347.58 C180.59 347.58 184.8 349.86 184.8 349.86 C184.8 349.86 189.01 352.05 189.01 352.05 C189.01 352.05 193.21 354.58 193.21 354.58 C193.21 354.58 197.42 357.16 197.42 357.16 C197.42 357.16 201.63 359.28 201.63 359.28 C201.63 359.28 205.84 362.12 205.84 362.12 C205.84 362.12 210.04 365.49 210.04 365.49 C210.04 365.49 214.25 369.16 214.25 369.16 C214.25 369.16 218.46 371.51 218.46 371.51 C218.46 371.51 222.67 373.63 222.67 373.63 C222.67 373.63 226.87 375.81 226.87 375.81 C226.87 375.81 231.08 377.19 231.08 377.19 C231.08 377.19 235.29 377.71 235.29 377.71 C235.29 377.71 239.49 379.07 239.49 379.07 C239.49 379.07 243.7 379.36 243.7 379.36 C243.7 379.36 247.91 378.63 247.91 378.63 C247.91 378.63 252.12 378.62 252.12 378.62 C252.12 378.62 256.32 379.21 256.32 379.21 C256.32 379.21 260.53 379.08 260.53 379.08 C260.53 379.08 264.74 379.13 264.74 379.13 C264.74 379.13 268.95 378.41 268.95 378.41 C268.95 378.41 273.15 377.19 273.15 377.19 C273.15 377.19 277.36 376.38 277.36 376.38 C277.36 376.38 281.57 375.16 281.57 375.16 C281.57 375.16 285.77 374.52 285.77 374.52 C285.77 374.52 289.98 374 289.98 374 C289.98 374 294.19 373.69 294.19 373.69 C294.19 373.69 298.4 372.86 298.4 372.86 C298.4 372.86 302.6 372.28 302.6 372.28 C302.6 372.28 306.81 372.02 306.81 372.02 C306.81 372.02 311.02 371.49 311.02 371.49 C311.02 371.49 315.23 370.91 315.23 370.91 C315.23 370.91 319.43 369.57 319.43 369.57 C319.43 369.57 323.64 368.33 323.64 368.33 C323.64 368.33 327.85 366.94 327.85 366.94 C327.85 366.94 332.05 366.71 332.05 366.71 C332.05 366.71 336.26 366.38 336.26 366.38 C336.26 366.38 340.47 365.33 340.47 365.33 C340.47 365.33 344.68 364.61 344.68 364.61 C344.68 364.61 348.88 363.24 348.88 363.24 C348.88 363.24 353.09 362.31 353.09 362.31 C353.09 362.31 357.3 361.31 357.3 361.31 C357.3 361.31 361.51 359.56 361.51 359.56 C361.51 359.56 365.71 358.02 365.71 358.02 C365.71 358.02 369.92 356.27 369.92 356.27 C369.92 356.27 374.13 353.34 374.13 353.34 C374.13 353.34 378.34 349.75 378.34 349.75 C378.34 349.75 382.54 346.12 382.54 346.12 C382.54 346.12 386.75 342.92 386.75 342.92 C386.75 342.92 390.96 339.76 390.96 339.76 C390.96 339.76 395.16 337.51 395.16 337.51 C395.16 337.51 399.37 335.36 399.37 335.36 C399.37 335.36 403.58 334.13 403.58 334.13 C403.58 334.13 407.79 333.28 407.79 333.28 C407.79 333.28 411.99 333.16 411.99 333.16 C411.99 333.16 416.2 332.94 416.2 332.94 C416.2 332.94 420.41 332.66 420.41 332.66 C420.41 332.66 424.62 332.8 424.62 332.8 C424.62 332.8 428.82 333 428.82 333 C428.82 333 433.03 332.88 433.03 332.88 C433.03 332.88 437.24 333.13 437.24 333.13 C437.24 333.13 441.44 333.76 441.44 333.76 C441.44 333.76 445.65 334.95 445.65 334.95 C445.65 334.95 449.86 334.86 449.86 334.86 C449.86 334.86 454.07 335.19 454.07 335.19 C454.07 335.19 458.27 336.32 458.27 336.32 C458.27 336.32 462.48 337.14 462.48 337.14 C462.48 337.14 466.69 338.29 466.69 338.29 C466.69 338.29 470.9 339.29 470.9 339.29 C470.9 339.29 475.1 340.04 475.1 340.04 C475.1 340.04 479.31 340.42 479.31 340.42 C479.31 340.42 483.52 341.04 483.52 341.04 C483.52 341.04 487.72 341.47 487.72 341.47 C487.72 341.47 491.93 341.54 491.93 341.54 C491.93 341.54 496.14 340.53 496.14 340.53 C496.14 340.53 500.35 339.88 500.35 339.88 C500.35 339.88 504.55 339.48 504.55 339.48 C504.55 339.48 508.76 338.94 508.76 338.94 C508.76 338.94 512.97 338.28 512.97 338.28 C512.97 338.28 517.18 338.05 517.18 338.05 C517.18 338.05 521.38 337.77 521.38 337.77 C521.38 337.77 525.59 336.3 525.59 336.3 C525.59 336.3 529.8 335.1 529.8 335.1 C529.8 335.1 534.01 334.95 534.01 334.95 C534.01 334.95 538.21 334.52 538.21 334.52 C538.21 334.52 542.42 333.43 542.42 333.43 C542.42 333.43 546.63 332.73 546.63 332.73 C546.63 332.73 550.83 332.18 550.83 332.18 C550.83 332.18 555.04 332.12 555.04 332.12 C555.04 332.12 559.25 332.43 559.25 332.43 C559.25 332.43 563.46 332.4 563.46 332.4 C563.46 332.4 567.66 332.38 567.66 332.38 C567.66 332.38 571.87 332.96 571.87 332.96 C571.87 332.96 576.08 333.46 576.08 333.46 C576.08 333.46 580.29 335.23 580.29 335.23 C580.29 335.23 584.49 336.12 584.49 336.12 C584.49 336.12 588.7 336.64 588.7 336.64 C588.7 336.64 592.91 336.68 592.91 336.68 C592.91 336.68 597.11 336.96 597.11 336.96 C597.11 336.96 601.32 337.16 601.32 337.16 C601.32 337.16 605.53 336.75 605.53 336.75 C605.53 336.75 609.74 337.22 609.74 337.22 C609.74 337.22 613.94 337 613.94 337 C613.94 337 618.15 336.63 618.15 336.63 C618.15 336.63 622.36 336.36 622.36 336.36 C622.36 336.36 626.57 336.43 626.57 336.43 C626.57 336.43 630.77 336.21 630.77 336.21 C630.77 336.21 634.98 335 634.98 335 C634.98 335 639.19 332.68 639.19 332.68 C639.19 332.68 643.39 330.11 643.39 330.11 C643.39 330.11 647.6 328.06 647.6 328.06 C647.6 328.06 651.81 326.32 651.81 326.32 C651.81 326.32 656.02 323.5 656.02 323.5 C656.02 323.5 660.22 320.84 660.22 320.84 C660.22 320.84 664.43 317.89 664.43 317.89 C664.43 317.89 668.64 315.28 668.64 315.28 C668.64 315.28 672.85 313.56 672.85 313.56 C672.85 313.56 677.05 311.04 677.05 311.04 C677.05 311.04 681.26 307.69 681.26 307.69 C681.26 307.69 685.47 304.67 685.47 304.67 C685.47 304.67 689.68 301.88 689.68 301.88 C689.68 301.88 693.88 298.81 693.88 298.81 C693.88 298.81 698.09 295.99 698.09 295.99 C698.09 295.99 702.3 293.44 702.3 293.44 C702.3 293.44 706.5 291.09 706.5 291.09 C706.5 291.09 710.71 289.06 710.71 289.06 C710.71 289.06 714.92 287.64 714.92 287.64 C714.92 287.64 719.13 286.76 719.13 286.76 C719.13 286.76 723.33 285.59 723.33 285.59 C723.33 285.59 727.54 283.06 727.54 283.06 C727.54 283.06 731.75 279.37 731.75 279.37 C731.75 279.37 735.96 275.51 735.96 275.51 C735.96 275.51 740.16 271.92 740.16 271.92 C740.16 271.92 744.37 268.97 744.37 268.97 C744.37 268.97 748.58 265.38 748.58 265.38 C748.58 265.38 752.78 261.82 752.78 261.82 C752.78 261.82 756.99 257.85 756.99 257.85 C756.99 257.85 761.2 255.03 761.2 255.03 C761.2 255.03 765.41 252.38 765.41 252.38 C765.41 252.38 769.61 247.45 769.61 247.45 C769.61 247.45 773.82 243.05 773.82 243.05 C773.82 243.05 778.03 238.7 778.03 238.7 C778.03 238.7 782.24 234.2 782.24 234.2 C782.24 234.2 786.44 227.47 786.44 227.47 C786.44 227.47 790.65 222.68 790.65 222.68 C790.65 222.68 794.86 218.04 794.86 218.04 C794.86 218.04 799.07 213.02 799.07 213.02 C799.07 213.02 803.27 208.89 803.27 208.89 C803.27 208.89 807.48 206.04 807.48 206.04 C807.48 206.04 811.69 205.47 811.69 205.47 C811.69 205.47 815.89 205.44 815.89 205.44 C815.89 205.44 820.1 204.64 820.1 204.64 C820.1 204.64 824.31 203.94 824.31 203.94 C824.31 203.94 828.52 202.31 828.52 202.31 C828.52 202.31 832.72 200.92 832.72 200.92 C832.72 200.92 836.93 197.93 836.93 197.93 C836.93 197.93 841.14 195.08 841.14 195.08 C841.14 195.08 845.35 191.13 845.35 191.13 C845.35 191.13 849.55 187.03 849.55 187.03 C849.55 187.03 853.76 184.45 853.76 184.45 C853.76 184.45 857.97 181.54 857.97 181.54 C857.97 181.54 862.17 178.99 862.17 178.99 C862.17 178.99 866.38 176.27 866.38 176.27 C866.38 176.27 870.59 173.09 870.59 173.09 C870.59 173.09 874.8 166.97 874.8 166.97 C874.8 166.97 879 161.03 879 161.03 C879 161.03 883.21 155.45 883.21 155.45 C883.21 155.45 887.42 149.42 887.42 149.42 C887.42 149.42 891.63 143.73 891.63 143.73 C891.63 143.73 895.83 138.33 895.83 138.33 C895.83 138.33 900.04 132.75 900.04 132.75 C900.04 132.75 904.25 127.66 904.25 127.66 C904.25 127.66 908.45 123.8 908.45 123.8 C908.45 123.8 912.66 119.23 912.66 119.23 C912.66 119.23 916.87 115.85 916.87 115.85 C916.87 115.85 921.08 112.73 921.08 112.73 C921.08 112.73 925.28 108.63 925.28 108.63 C925.28 108.63 929.49 106.63 929.49 106.63 C929.49 106.63 933.7 105.25 933.7 105.25 C933.7 105.25 937.91 104.13 937.91 104.13 C937.91 104.13 942.11 103.68 942.11 103.68 C942.11 103.68 946.32 101.73 946.32 101.73 C946.32 101.73 950.53 99.55 950.53 99.55 C950.53 99.55 954.74 100.63 954.74 100.63 C954.74 100.63 958.94 102.42 958.94 102.42 C958.94 102.42 963.15 105.35 963.15 105.35 C963.15 105.35 967.36 108.27 967.36 108.27 C967.36 108.27 971.56 111.42 971.56 111.42 C971.56 111.42 975.77 114.73 975.77 114.73 C975.77 114.73 979.98 116.45 979.98 116.45 C979.98 116.45 984.19 118.87 984.19 118.87 C984.19 118.87 988.39 121.38 988.39 121.38 C988.39 121.38 992.6 122.12 992.6 122.12 C992.6 122.12 996.81 123.97 996.81 123.97 C996.81 123.97 1001.02 124.97 1001.02 124.97 C1001.02 124.97 1005.22 126.51 1005.22 126.51 C1005.22 126.51 1009.43 129.41 1009.43 129.41 C1009.43 129.41 1013.64 132.28 1013.64 132.28 C1013.64 132.28 1017.84 135.43 1017.84 135.43 C1017.84 135.43 1022.05 137.09 1022.05 137.09 C1022.05 137.09 1026.26 138.25 1026.26 138.25" stroke="#e540cc" stroke-width="0.95" fill="none" stroke-linejoin="round" stroke-linecap="round"/>
<path d="M54.37 306.57 C54.37 306.57 58.58 297.89 58.58 297.89 C58.58 297.89 62.79 297.85 62.79 297.85 C62.79 297.85 66.99 306.2 66.99 306.2 C66.99 306.2 71.2 312.3 71.2 312.3 C71.2 312.3 75.41 317.9 75.41 317.9 C75.41 317.9 79.62 324.86 79.62 324.86 C79.62 324.86 83.82 329.27 83.82 329.27 C83.82 329.27 88.03 329.25 88.03 329.25 C88.03 329.25 92.24 327.48 92.24 327.48 C92.24 327.48 96.45 326.72 96.45 326.72 C96.45 326.72 100.65 327.77 100.65 327.77 C100.65 327.77 104.86 328.99 104.86 328.99 C104.86 328.99 109.07 328.57 109.07 328.57 C109.07 328.57 113.28 328.12 113.28 328.12 C113.28 328.12 117.48 329.14 117.48 329.14 C117.48 329.14 121.69 329.17 121.69 329.17 C121.69 329.17 125.9 330.27 125.9 330.27 C125.9 330.27 130.1 331.56 130.1 331.56 C130.1 331.56 134.31 334.91 134.31 334.91 C134.31 334.91 138.52 338.13 138.52 338.13 C138.52 338.13 142.73 339.15 142.73 339.15 C142.73 339.15 146.93 339.83 146.93 339.83 C146.93 339.83 151.14 343 151.14 343 C151.14 343 155.35 343.49 155.35 343.49 C155.35 343.49 159.56 345.51 159.56 345.51 C159.56 345.51 163.76 348.88 163.76 348.88 C163.76 348.88 167.97 351.29 167.97 351.29 C167.97 351.29 172.18 353.37 172.18 353.37 C172.18 353.37 176.38 355.02 176.38 355.02 C176.38 355.02 180.59 357.04 180.59 357.04 C180.59 357.04 184.8 360.57 184.8 360.57 C184.8 360.57 189.01 364.27 189.01 364.27 C189.01 364.27 193.21 366.17 193.21 366.17 C193.21 366.17 197.42 370.83 197.42 370.83 C197.42 370.83 201.63 373.06 201.63 373.06 C201.63 373.06 205.84 375.35 205.84 375.35 C205.84 375.35 210.04 379.69 210.04 379.69 C210.04 379.69 214.25 384.95 214.25 384.95 C214.25 384.95 218.46 388 218.46 388 C218.46 388 222.67 390.22 222.67 390.22 C222.67 390.22 226.87 391.05 226.87 391.05 C226.87 391.05 231.08 390.12 231.08 390.12 C231.08 390.12 235.29 389.24 235.29 389.24 C235.29 389.24 239.49 387.32 239.49 387.32 C239.49 387.32 243.7 385.65 243.7 385.65 C243.7 385.65 247.91 381.91 247.91 381.91 C247.91 381.91 252.12 377.56 252.12 377.56 C252.12 377.56 256.32 373.47 256.32 373.47 C256.32 373.47 260.53 370.17 260.53 370.17 C260.53 370.17 264.74 368.05 264.74 368.05 C264.74 368.05 268.95 365.77 268.95 365.77 C268.95 365.77 273.15 364.25 273.15 364.25 C273.15 364.25 277.36 363.53 277.36 363.53 C277.36 363.53 281.57 363 281.57 363 C281.57 363 285.77 363.4 285.77 363.4 C285.77 363.4 289.98 366.1 289.98 366.1 C289.98 366.1 294.19 369.83 294.19 369.83 C294.19 369.83 298.4 372.25 298.4 372.25 C298.4 372.25 302.6 374.4 302.6 374.4 C302.6 374.4 306.81 376 306.81 376 C306.81 376 311.02 377.2 311.02 377.2 C311.02 377.2 315.23 377.57 315.23 377.57 C315.23 377.57 319.43 375.62 319.43 375.62 C319.43 375.62 323.64 373.67 323.64 373.67 C323.64 373.67 327.85 370.49 327.85 370.49 C327.85 370.49 332.05 367.32 332.05 367.32 C332.05 367.32 336.26 362.94 336.26 362.94 C336.26 362.94 340.47 358.42 340.47 358.42 C340.47 358.42 344.68 354.82 344.68 354.82 C344.68 354.82 348.88 350.47 348.88 350.47 C348.88 350.47 353.09 347.42 353.09 347.42 C353.09 347.42 357.3 345.05 357.3 345.05 C357.3 345.05 361.51 343.5 361.51 343.5 C361.51 343.5 365.71 342.38 365.71 342.38 C365.71 342.38 369.92 342.06 369.92 342.06 C369.92 342.06 374.13 339.36 374.13 339.36 C374.13 339.36 378.34 336.56 378.34 336.56 C378.34 336.56 382.54 333.81 382.54 333.81 C382.54 333.81 386.75 331.01 386.75 331.01 C386.75 331.01 390.96 329.06 390.96 329.06 C390.96 329.06 395.16 327.61 395.16 327.61 C395.16 327.61 399.37 325.66 399.37 325.66 C399.37 325.66 403.58 324.76 403.58 324.76 C403.58 324.76 407.79 324.18 407.79 324.18 C407.79 324.18 411.99 324.26 411.99 324.26 C411.99 324.26 416.2 326.53 416.2 326.53 C416.2 326.53 420.41 328.76 420.41 328.76 C420.41 328.76 424.62 331.79 424.62 331.79 C424.62 331.79 428.82 334.99 428.82 334.99 C428.82 334.99 433.03 336.71 433.03 336.71 C433.03 336.71 437.24 338.66 437.24 338.66 C437.24 338.66 441.44 341.86 441.44 341.86 C441.44 341.86 445.65 345.14 445.65 345.14 C445.65 345.14 449.86 345.54 449.86 345.54 C449.86 345.54 454.07 346.11 454.07 346.11 C454.07 346.11 458.27 346.11 458.27 346.11 C458.27 346.11 462.48 345.53 462.48 345.53 C462.48 345.53 466.69 344.8 466.69 344.8 C466.69 344.8 470.9 343.6 470.9 343.6 C470.9 343.6 475.1 343.38 475.1 343.38 C475.1 343.38 479.31 342.18 479.31 342.18 C479.31 342.18 483.52 340.23 483.52 340.23 C483.52 340.23 487.72 337.8 487.72 337.8 C487.72 337.8 491.93 337.55 491.93 337.55 C491.93 337.55 496.14 334.95 496.14 334.95 C496.14 334.95 500.35 333.65 500.35 333.65 C500.35 333.65 504.55 333.42 504.55 333.42 C504.55 333.42 508.76 333.07 508.76 333.07 C508.76 333.07 512.97 332.97 512.97 332.97 C512.97 332.97 517.18 332.72 517.18 332.72 C517.18 332.72 521.38 333.37 521.38 333.37 C521.38 333.37 525.59 332.37 525.59 332.37 C525.59 332.37 529.8 332.4 529.8 332.4 C529.8 332.4 534.01 332.35 534.01 332.35 C534.01 332.35 538.21 334.1 538.21 334.1 C538.21 334.1 542.42 333.2 542.42 333.2 C542.42 333.2 546.63 332.03 546.63 332.03 C546.63 332.03 550.83 331.28 550.83 331.28 C550.83 331.28 555.04 331.28 555.04 331.28 C555.04 331.28 559.25 332.13 559.25 332.13 C559.25 332.13 563.46 331.43 563.46 331.43 C563.46 331.43 567.66 332.4 567.66 332.4 C567.66 332.4 571.87 333.52 571.87 333.52 C571.87 333.52 576.08 334.57 576.08 334.57 C576.08 334.57 580.29 336.35 580.29 336.35 C580.29 336.35 584.49 339.05 584.49 339.05 C584.49 339.05 588.7 341.25 588.7 341.25 C588.7 341.25 592.91 342.08 592.91 342.08 C592.91 342.08 597.11 342.63 597.11 342.63 C597.11 342.63 601.32 342.18 601.32 342.18 C601.32 342.18 605.53 342.08 605.53 342.08 C605.53 342.08 609.74 342.04 609.74 342.04 C609.74 342.04 613.94 340.49 613.94 340.49 C613.94 340.49 618.15 338.69 618.15 338.69 C618.15 338.69 622.36 336.36 622.36 336.36 C622.36 336.36 626.57 333.81 626.57 333.81 C626.57 333.81 630.77 331.16 630.77 331.16 C630.77 331.16 634.98 327.93 634.98 327.93 C634.98 327.93 639.19 322.73 639.19 322.73 C639.19 322.73 643.39 318.03 643.39 318.03 C643.39 318.03 647.6 314.03 647.6 314.03 C647.6 314.03 651.81 310.6 651.81 310.6 C651.81 310.6 656.02 306.5 656.02 306.5 C656.02 306.5 660.22 303 660.22 303 C660.22 303 664.43 299.43 664.43 299.43 C664.43 299.43 668.64 296.75 668.64 296.75 C668.64 296.75 672.85 295.95 672.85 295.95 C672.85 295.95 677.05 294.15 677.05 294.15 C677.05 294.15 681.26 292.65 681.26 292.65 C681.26 292.65 685.47 291.3 685.47 291.3 C685.47 291.3 689.68 289.73 689.68 289.73 C689.68 289.73 693.88 287.03 693.88 287.03 C693.88 287.03 698.09 285.48 698.09 285.48 C698.09 285.48 702.3 283.88 702.3 283.88 C702.3 283.88 706.5 282.75 706.5 282.75 C706.5 282.75 710.71 281.38 710.71 281.38 C710.71 281.38 714.92 279.33 714.92 279.33 C714.92 279.33 719.13 279.38 719.13 279.38 C719.13 279.38 723.33 278.53 723.33 278.53 C723.33 278.53 727.54 274.83 727.54 274.83 C727.54 274.83 731.75 269 731.75 269 C731.75 269 735.96 264 735.96 264 C735.96 264 740.16 258.35 740.16 258.35 C740.16 258.35 744.37 254.05 744.37 254.05 C744.37 254.05 748.58 248 748.58 248 C748.58 248 752.78 242.27 752.78 242.27 C752.78 242.27 756.99 236.37 756.99 236.37 C756.99 236.37 761.2 230.67 761.2 230.67 C761.2 230.67 765.41 226.22 765.41 226.22 C765.41 226.22 769.61 220.07 769.61 220.07 C769.61 220.07 773.82 217.1 773.82 217.1 C773.82 217.1 778.03 213.4 778.03 213.4 C778.03 213.4 782.24 210.05 782.24 210.05 C782.24 210.05 786.44 200.9 786.44 200.9 C786.44 200.9 790.65 197.35 790.65 197.35 C790.65 197.35 794.86 193.81 794.86 193.81 C794.86 193.81 799.07 189.66 799.07 189.66 C799.07 189.66 803.27 187.11 803.27 187.11 C803.27 187.11 807.48 185.86 807.48 185.86 C807.48 185.86 811.69 190.86 811.69 190.86 C811.69 190.86 815.89 193.78 815.89 193.78 C815.89 193.78 820.1 195.88 820.1 195.88 C820.1 195.88 824.31 197.83 824.31 197.83 C824.31 197.83 828.52 203.73 828.52 203.73 C828.52 203.73 832.72 204.48 832.72 204.48 C832.72 204.48 836.93 202.05 836.93 202.05 C836.93 202.05 841.14 200.5 841.14 200.5 C841.14 200.5 845.35 195.15 845.35 195.15 C845.35 195.15 849.55 188.2 849.55 188.2 C849.55 188.2 853.76 178.05 853.76 178.05 C853.76 178.05 857.97 169.3 857.97 169.3 C857.97 169.3 862.17 162.1 862.17 162.1 C862.17 162.1 866.38 154.7 866.38 154.7 C866.38 154.7 870.59 142.45 870.59 142.45 C870.59 142.45 874.8 129.47 874.8 129.47 C874.8 129.47 879 120 879 120 C879 120 883.21 110.4 883.21 110.4 C883.21 110.4 887.42 103.68 887.42 103.68 C887.42 103.68 891.63 99.26 891.63 99.26 C891.63 99.26 895.83 98.61 895.83 98.61 C895.83 98.61 900.04 96.21 900.04 96.21 C900.04 96.21 904.25 93.21 904.25 93.21 C904.25 93.21 908.45 92.91 908.45 92.91 C908.45 92.91 912.66 96.01 912.66 96.01 C912.66 96.01 916.87 102.24 916.87 102.24 C916.87 102.24 921.08 105.46 921.08 105.46 C921.08 105.46 925.28 106.86 925.28 106.86 C925.28 106.86 929.49 109.58 929.49 109.58 C929.49 109.58 933.7 111.25 933.7 111.25 C933.7 111.25 937.91 109.65 937.91 109.65 C937.91 109.65 942.11 111.15 942.11 111.15 C942.11 111.15 946.32 110.25 946.32 110.25 C946.32 110.25 950.53 106.2 950.53 106.2 C950.53 106.2 954.74 105.25 954.74 105.25 C954.74 105.25 958.94 102.6 958.94 102.6 C958.94 102.6 963.15 105.25 963.15 105.25 C963.15 105.25 967.36 109.68 967.36 109.68 C967.36 109.68 971.56 113.26 971.56 113.26 C971.56 113.26 975.77 118.21 975.77 118.21 C975.77 118.21 979.98 123.26 979.98 123.26 C979.98 123.26 984.19 126.59 984.19 126.59 C984.19 126.59 988.39 132.52 988.39 132.52 C988.39 132.52 992.6 138.04 992.6 138.04 C992.6 138.04 996.81 142.69 996.81 142.69 C996.81 142.69 1001.02 147.34 1001.02 147.34 C1001.02 147.34 1005.22 147.77 1005.22 147.77 C1005.22 147.77 1009.43 149.14 1009.43 149.14 C1009.43 149.14 1013.64 151.31 1013.64 151.31 C1013.64 151.31 1017.84 152.64 1017.84 152.64 C1017.84 152.64 1022.05 150.92 1022.05 150.92 C1022.05 150.92 1026.26 149.92 1026.26 149.92" stroke="#3f87dc" stroke-width="0.95" fill="none" stroke-linejoin="round" stroke-linecap="round"/>
<path d="M33.34 311.84 C33.34 311.84 37.54 283.56 37.54 283.56 C37.54 283.56 41.75 271.96 41.75 271.96 C41.75 271.96 45.96 284.52 45.96 284.52 C45.96 284.52 50.17 292.66 50.17 292.66 C50.17 292.66 54.37 301.3 54.37 301.3 C54.37 301.3 58.58 312.22 58.58 312.22 C58.58 312.22 62.79 323.74 62.79 323.74 C62.79 323.74 66.99 327.88 66.99 327.88 C66.99 327.88 71.2 331.94 71.2 331.94 C71.2 331.94 75.41 334.5 75.41 334.5 C75.41 334.5 79.62 337.5 79.62 337.5 C79.62 337.5 83.82 334.8 83.82 334.8 C83.82 334.8 88.03 330.62 88.03 330.62 C88.03 330.62 92.24 323.02 92.24 323.02 C92.24 323.02 96.45 318.94 96.45 318.94 C96.45 318.94 100.65 318.04 100.65 318.04 C100.65 318.04 104.86 323.18 104.86 323.18 C104.86 323.18 109.07 326.52 109.07 326.52 C109.07 326.52 113.28 333.22 113.28 333.22 C113.28 333.22 117.48 339.34 117.48 339.34 C117.48 339.34 121.69 340.3 121.69 340.3 C121.69 340.3 125.9 337.36 125.9 337.36 C125.9 337.36 130.1 336.6 130.1 336.6 C130.1 336.6 134.31 336.6 134.31 336.6 C134.31 336.6 138.52 336.92 138.52 336.92 C138.52 336.92 142.73 338 142.73 338 C142.73 338 146.93 342.3 146.93 342.3 C146.93 342.3 151.14 349.4 151.14 349.4 C151.14 349.4 155.35 350.38 155.35 350.38 C155.35 350.38 159.56 354.1 159.56 354.1 C159.56 354.1 163.76 359.76 163.76 359.76 C163.76 359.76 167.97 360.28 167.97 360.28 C167.97 360.28 172.18 357.34 172.18 357.34 C172.18 357.34 176.38 359.66 176.38 359.66 C176.38 359.66 180.59 359.98 180.59 359.98 C180.59 359.98 184.8 361.38 184.8 361.38 C184.8 361.38 189.01 368.26 189.01 368.26 C189.01 368.26 193.21 375 193.21 375 C193.21 375 197.42 382 197.42 382 C197.42 382 201.63 386.14 201.63 386.14 C201.63 386.14 205.84 389.32 205.84 389.32 C205.84 389.32 210.04 391.12 210.04 391.12 C210.04 391.12 214.25 394.9 214.25 394.9 C214.25 394.9 218.46 394 218.46 394 C218.46 394 222.67 394.3 222.67 394.3 C222.67 394.3 226.87 392.78 226.87 392.78 C226.87 392.78 231.08 389.12 231.08 389.12 C231.08 389.12 235.29 383.58 235.29 383.58 C235.29 383.58 239.49 380.64 239.49 380.64 C239.49 380.64 243.7 377 243.7 377 C243.7 377 247.91 371.04 247.91 371.04 C247.91 371.04 252.12 366 252.12 366 C252.12 366 256.32 363.36 256.32 363.36 C256.32 363.36 260.53 359.7 260.53 359.7 C260.53 359.7 264.74 359.1 264.74 359.1 C264.74 359.1 268.95 360.5 268.95 360.5 C268.95 360.5 273.15 362.5 273.15 362.5 C273.15 362.5 277.36 363.7 277.36 363.7 C277.36 363.7 281.57 366.3 281.57 366.3 C281.57 366.3 285.77 367.7 285.77 367.7 C285.77 367.7 289.98 371.7 289.98 371.7 C289.98 371.7 294.19 377.16 294.19 377.16 C294.19 377.16 298.4 380.8 298.4 380.8 C298.4 380.8 302.6 382.5 302.6 382.5 C302.6 382.5 306.81 384.3 306.81 384.3 C306.81 384.3 311.02 382.7 311.02 382.7 C311.02 382.7 315.23 377.98 315.23 377.98 C315.23 377.98 319.43 370.44 319.43 370.44 C319.43 370.44 323.64 364.84 323.64 364.84 C323.64 364.84 327.85 356.68 327.85 356.68 C327.85 356.68 332.05 351.94 332.05 351.94 C332.05 351.94 336.26 347.9 336.26 347.9 C336.26 347.9 340.47 346.4 340.47 346.4 C340.47 346.4 344.68 344.8 344.68 344.8 C344.68 344.8 348.88 344.26 348.88 344.26 C348.88 344.26 353.09 342.9 353.09 342.9 C353.09 342.9 357.3 342.2 357.3 342.2 C357.3 342.2 361.51 340.6 361.51 340.6 C361.51 340.6 365.71 339.96 365.71 339.96 C365.71 339.96 369.92 339.86 369.92 339.86 C369.92 339.86 374.13 335.82 374.13 335.82 C374.13 335.82 378.34 330.92 378.34 330.92 C378.34 330.92 382.54 327.02 382.54 327.02 C382.54 327.02 386.75 322.06 386.75 322.06 C386.75 322.06 390.96 318.26 390.96 318.26 C390.96 318.26 395.16 319.4 395.16 319.4 C395.16 319.4 399.37 320.4 399.37 320.4 C399.37 320.4 403.58 322.5 403.58 322.5 C403.58 322.5 407.79 326.3 407.79 326.3 C407.79 326.3 411.99 330.26 411.99 330.26 C411.99 330.26 416.2 333.66 416.2 333.66 C416.2 333.66 420.41 337.12 420.41 337.12 C420.41 337.12 424.62 341.08 424.62 341.08 C424.62 341.08 428.82 343.68 428.82 343.68 C428.82 343.68 433.03 343.16 433.03 343.16 C433.03 343.16 437.24 343.66 437.24 343.66 C437.24 343.66 441.44 346.6 441.44 346.6 C441.44 346.6 445.65 349.2 445.65 349.2 C445.65 349.2 449.86 347.4 449.86 347.4 C449.86 347.4 454.07 349.06 454.07 349.06 C454.07 349.06 458.27 348.56 458.27 348.56 C458.27 348.56 462.48 344.46 462.48 344.46 C462.48 344.46 466.69 340.4 466.69 340.4 C466.69 340.4 470.9 339.8 470.9 339.8 C470.9 339.8 475.1 337.7 475.1 337.7 C475.1 337.7 479.31 335.8 479.31 335.8 C479.31 335.8 483.52 336 483.52 336 C483.52 336 487.72 335.2 487.72 335.2 C487.72 335.2 491.93 335.3 491.93 335.3 C491.93 335.3 496.14 332.2 496.14 332.2 C496.14 332.2 500.35 331.5 500.35 331.5 C500.35 331.5 504.55 330.84 504.55 330.84 C504.55 330.84 508.76 330.94 508.76 330.94 C508.76 330.94 512.97 330.64 512.97 330.64 C512.97 330.64 517.18 333.24 517.18 333.24 C517.18 333.24 521.38 335.24 521.38 335.24 C521.38 335.24 525.59 333.9 525.59 333.9 C525.59 333.9 529.8 333.86 529.8 333.86 C529.8 333.86 534.01 334.06 534.01 334.06 C534.01 334.06 538.21 334.96 538.21 334.96 C538.21 334.96 542.42 331.16 542.42 331.16 C542.42 331.16 546.63 330.16 546.63 330.16 C546.63 330.16 550.83 328.7 550.83 328.7 C550.83 328.7 555.04 328.5 555.04 328.5 C555.04 328.5 559.25 329.3 559.25 329.3 C559.25 329.3 563.46 331.7 563.46 331.7 C563.46 331.7 567.66 334.64 567.66 334.64 C567.66 334.64 571.87 338.34 571.87 338.34 C571.87 338.34 576.08 340.64 576.08 340.64 C576.08 340.64 580.29 343.4 580.29 343.4 C580.29 343.4 584.49 346.4 584.49 346.4 C584.49 346.4 588.7 347.86 588.7 347.86 C588.7 347.86 592.91 345.82 592.91 345.82 C592.91 345.82 597.11 344.62 597.11 344.62 C597.11 344.62 601.32 340.96 601.32 340.96 C601.32 340.96 605.53 337.76 605.53 337.76 C605.53 337.76 609.74 336.22 609.74 336.22 C609.74 336.22 613.94 335.16 613.94 335.16 C613.94 335.16 618.15 332.76 618.15 332.76 C618.15 332.76 622.36 331.76 622.36 331.76 C622.36 331.76 626.57 329.86 626.57 329.86 C626.57 329.86 630.77 326.1 630.77 326.1 C630.77 326.1 634.98 320.7 634.98 320.7 C634.98 320.7 639.19 312.7 639.19 312.7 C639.19 312.7 643.39 304.3 643.39 304.3 C643.39 304.3 647.6 298.2 647.6 298.2 C647.6 298.2 651.81 295.1 651.81 295.1 C651.81 295.1 656.02 292.3 656.02 292.3 C656.02 292.3 660.22 293.3 660.22 293.3 C660.22 293.3 664.43 294.56 664.43 294.56 C664.43 294.56 668.64 295.3 668.64 295.3 C668.64 295.3 672.85 296.8 672.85 296.8 C672.85 296.8 677.05 296 677.05 296 C677.05 296 681.26 292 681.26 292 C681.26 292 685.47 288.04 685.47 288.04 C685.47 288.04 689.68 284.16 689.68 284.16 C689.68 284.16 693.88 277.26 693.88 277.26 C693.88 277.26 698.09 274.96 698.09 274.96 C698.09 274.96 702.3 275.76 702.3 275.76 C702.3 275.76 706.5 277.46 706.5 277.46 C706.5 277.46 710.71 278.6 710.71 278.6 C710.71 278.6 714.92 281.4 714.92 281.4 C714.92 281.4 719.13 283.8 719.13 283.8 C719.13 283.8 723.33 281.3 723.33 281.3 C723.33 281.3 727.54 272.2 727.54 272.2 C727.54 272.2 731.75 259.4 731.75 259.4 C731.75 259.4 735.96 246.6 735.96 246.6 C735.96 246.6 740.16 232.9 740.16 232.9 C740.16 232.9 744.37 226.8 744.37 226.8 C744.37 226.8 748.58 223.8 748.58 223.8 C748.58 223.8 752.78 225.14 752.78 225.14 C752.78 225.14 756.99 226.14 756.99 226.14 C756.99 226.14 761.2 228.44 761.2 228.44 C761.2 228.44 765.41 225.64 765.41 225.64 C765.41 225.64 769.61 216.34 769.61 216.34 C769.61 216.34 773.82 209.06 773.82 209.06 C773.82 209.06 778.03 200.66 778.03 200.66 C778.03 200.66 782.24 191.66 782.24 191.66 C782.24 191.66 786.44 176.16 786.44 176.16 C786.44 176.16 790.65 178.36 790.65 178.36 C790.65 178.36 794.86 178.56 794.86 178.56 C794.86 178.56 799.07 178.66 799.07 178.66 C799.07 178.66 803.27 182.56 803.27 182.56 C803.27 182.56 807.48 195.56 807.48 195.56 C807.48 195.56 811.69 203.36 811.69 203.36 C811.69 203.36 815.89 209 815.89 209 C815.89 209 820.1 213.1 820.1 213.1 C820.1 213.1 824.31 213.1 824.31 213.1 C824.31 213.1 828.52 211.9 828.52 211.9 C828.52 211.9 832.72 205.6 832.72 205.6 C832.72 205.6 836.93 195.1 836.93 195.1 C836.93 195.1 841.14 187.9 841.14 187.9 C841.14 187.9 845.35 177.2 845.35 177.2 C845.35 177.2 849.55 164.5 849.55 164.5 C849.55 164.5 853.76 150.5 853.76 150.5 C853.76 150.5 857.97 143.5 857.97 143.5 C857.97 143.5 862.17 136.3 862.17 136.3 C862.17 136.3 866.38 132.2 866.38 132.2 C866.38 132.2 870.59 120.4 870.59 120.4 C870.59 120.4 874.8 108.44 874.8 108.44 C874.8 108.44 879 96.5 879 96.5 C879 96.5 883.21 84.5 883.21 84.5 C883.21 84.5 887.42 75.16 887.42 75.16 C887.42 75.16 891.63 78.12 891.63 78.12 C891.63 78.12 895.83 88.78 895.83 88.78 C895.83 88.78 900.04 95.92 900.04 95.92 C900.04 95.92 904.25 101.92 904.25 101.92 C904.25 101.92 908.45 110.66 908.45 110.66 C908.45 110.66 912.66 113.9 912.66 113.9 C912.66 113.9 916.87 115.7 916.87 115.7 C916.87 115.7 921.08 115 921.08 115 C921.08 115 925.28 111.8 925.28 111.8 C925.28 111.8 929.49 108.5 929.49 108.5 C929.49 108.5 933.7 108.6 933.7 108.6 C933.7 108.6 937.91 103.6 937.91 103.6 C937.91 103.6 942.11 107.3 942.11 107.3 C942.11 107.3 946.32 108.7 946.32 108.7 C946.32 108.7 950.53 103.9 950.53 103.9 C950.53 103.9 954.74 101.9 954.74 101.9 C954.74 101.9 958.94 101.6 958.94 101.6 C958.94 101.6 963.15 103.2 963.15 103.2 C963.15 103.2 967.36 110.66 967.36 110.66 C967.36 110.66 971.56 122.62 971.56 122.62 C971.56 122.62 975.77 134.52 975.77 134.52 C975.77 134.52 979.98 144.92 979.98 144.92 C979.98 144.92 984.19 149.98 984.19 149.98 C984.19 149.98 988.39 154.38 988.39 154.38 C988.39 154.38 992.6 153.46 992.6 153.46 C992.6 153.46 996.81 150.86 996.81 150.86 C996.81 150.86 1001.02 149.76 1001.02 149.76 C1001.02 149.76 1005.22 145.56 1005.22 145.56 C1005.22 145.56 1009.43 143.9 1009.43 143.9 C1009.43 143.9 1013.64 149.16 1013.64 149.16 C1013.64 149.16 1017.84 154.42 1017.84 154.42 C1017.84 154.42 1022.05 152.08 1022.05 152.08 C1022.05 152.08 1026.26 154.28 1026.26 154.28" stroke="#f7a735" stroke-width="0.95" fill="none" stroke-linejoin="round" stroke-linecap="round"/>
<path d="M12.5 469.3 H21.5 M869.5 52 H879.3" stroke="#858585" stroke-width="0.7" fill="none"/>
<text x="15.1" y="16" font-size="8.3" fill="#666" stroke="#666" stroke-width="0.18">分时</text>
<text x="37.5" y="16" font-size="8.3" fill="#666" stroke="#666" stroke-width="0.18">五日</text>
<text x="61.4" y="16" font-size="8.3" fill="#666" stroke="#666" stroke-width="0.18">日</text>
<text x="80.4" y="16" font-size="8.3" fill="#2478e0" stroke="#2478e0" stroke-width="0.18">周</text>
<text x="101" y="16" font-size="8.3" fill="#666" stroke="#666" stroke-width="0.18">月</text>
<text x="121.5" y="16" font-size="8.3" fill="#666" stroke="#666" stroke-width="0.18">季</text>
<text x="141.4" y="16" font-size="8.3" fill="#666" stroke="#666" stroke-width="0.18">年</text>
<text x="173.9" y="16" font-size="8.3" fill="#666" stroke="#666" stroke-width="0.18">分</text>
<text x="197.75" y="16" font-size="8.3" fill="#666" stroke="#666" stroke-width="0.18">分</text>
<text x="221.75" y="16" font-size="8.3" fill="#666" stroke="#666" stroke-width="0.18">分</text>
<text x="245.75" y="16" font-size="8.3" fill="#666" stroke="#666" stroke-width="0.18">分</text>
<text x="265.6" y="16" font-size="8.3" fill="#666" stroke="#666" stroke-width="0.18">分</text>
<text x="284.9" y="16" font-size="8.3" fill="#666" stroke="#666" stroke-width="0.18">分</text>
<path d="M80.5 20.6 H94.3" stroke="#1a6fe6" stroke-width="1.1"/>
<text x="1002.3" y="15.8" font-size="7.7" fill="#2478e0" stroke="#2478e0" stroke-width="0.06">区间统计</text>
<text x="1040.7" y="15.8" font-size="7.7" fill="#2478e0" stroke="#2478e0" stroke-width="0.06">退出全屏</text>
<text x="11.2" y="29.1" font-size="6.5" fill="#555" stroke="#555" stroke-width="0.18">均线</text>
<circle cx="968.8" cy="28.3" r="3.9" fill="#ececec"/>
<circle cx="983.3" cy="28.3" r="3.9" fill="#ececec"/>
<circle cx="997.7" cy="28.3" r="3.9" fill="#ececec"/>
<circle cx="1012.1" cy="28.3" r="3.9" fill="#ececec"/>
<circle cx="1026.6" cy="28.3" r="3.9" fill="#ececec"/>
<circle cx="1041" cy="28.3" r="3.9" fill="#ececec"/>
<path d="M967.3 27 h3.2 a1.15 1.15 0 0 1 0 2.3 h-3.6 M967.7 26 l-1.1 1.0 l1.1 1.0" stroke="#7d7d7d" stroke-width="0.8" fill="none"/>
<path d="M981.2 28.3 h4.2 M983.3 26.2 v4.2" stroke="#7d7d7d" stroke-width="0.85" fill="none"/>
<path d="M995.6 28.3 h4.2" stroke="#7d7d7d" stroke-width="0.85" fill="none"/>
<path d="M1012.7 26.4 l-1.5 1.9 l1.5 1.9" stroke="#7d7d7d" stroke-width="0.8" fill="none"/>
<path d="M1026 26.4 l1.5 1.9 l-1.5 1.9" stroke="#7d7d7d" stroke-width="0.8" fill="none"/>
<rect x="1039.55" y="25.5" width="2.9" height="5.6" rx="0.9" stroke="#7d7d7d" stroke-width="0.9" fill="none"/>
<text x="1051.5" y="31.15" font-size="7" fill="#5a5a5a" stroke="#5a5a5a" stroke-width="0.05">前复权</text>
</svg>
<div class="t" style="left:21.9px;top:466.03px;font-size:6.9px;line-height:6.9px;color:#666;">39.89</div>
<div class="t" style="left:847.5px;top:48.63px;font-size:6.9px;line-height:6.9px;color:#666;">336.11</div>
<div class="t" style="left:11.2px;top:34.83px;font-size:6.9px;line-height:6.9px;color:#666;">348.80</div>
<div class="t" style="left:11.2px;top:106.23px;font-size:6.9px;line-height:6.9px;color:#666;">295.20</div>
<div class="t" style="left:11.2px;top:181.73px;font-size:6.9px;line-height:6.9px;color:#666;">241.60</div>
<div class="t" style="left:11.2px;top:257.23px;font-size:6.9px;line-height:6.9px;color:#666;">188.00</div>
<div class="t" style="left:11.2px;top:332.73px;font-size:6.9px;line-height:6.9px;color:#666;">134.40</div>
<div class="t" style="left:11.2px;top:408.23px;font-size:6.9px;line-height:6.9px;color:#666;">80.80</div>
<div class="t" style="left:11.2px;top:481.03px;font-size:6.9px;line-height:6.9px;color:#666;">27.20</div>
<div class="t" style="left:53.98px;top:489.61px;font-size:7.15px;line-height:7.15px;color:#666;">2021-08</div>
<div class="t" style="left:108.68px;top:489.61px;font-size:7.15px;line-height:7.15px;color:#666;">2021-11</div>
<div class="t" style="left:163.38px;top:489.61px;font-size:7.15px;line-height:7.15px;color:#666;">2022-03</div>
<div class="t" style="left:218.08px;top:489.61px;font-size:7.15px;line-height:7.15px;color:#666;">2022-06</div>
<div class="t" style="left:272.78px;top:489.61px;font-size:7.15px;line-height:7.15px;color:#666;">2022-09</div>
<div class="t" style="left:327.48px;top:489.61px;font-size:7.15px;line-height:7.15px;color:#666;">2022-12</div>
<div class="t" style="left:382.18px;top:489.61px;font-size:7.15px;line-height:7.15px;color:#666;">2023-03</div>
<div class="t" style="left:436.88px;top:489.61px;font-size:7.15px;line-height:7.15px;color:#666;">2023-06</div>
<div class="t" style="left:491.58px;top:489.61px;font-size:7.15px;line-height:7.15px;color:#666;">2023-09</div>
<div class="t" style="left:546.28px;top:489.61px;font-size:7.15px;line-height:7.15px;color:#666;">2023-12</div>
<div class="t" style="left:600.98px;top:489.61px;font-size:7.15px;line-height:7.15px;color:#666;">2024-03</div>
<div class="t" style="left:655.68px;top:489.61px;font-size:7.15px;line-height:7.15px;color:#666;">2024-06</div>
<div class="t" style="left:710.38px;top:489.61px;font-size:7.15px;line-height:7.15px;color:#666;">2024-09</div>
<div class="t" style="left:765.08px;top:489.61px;font-size:7.15px;line-height:7.15px;color:#666;">2024-12</div>
<div class="t" style="left:819.78px;top:489.61px;font-size:7.15px;line-height:7.15px;color:#666;">2025-03</div>
<div class="t" style="left:874.48px;top:489.61px;font-size:7.15px;line-height:7.15px;color:#666;">2025-06</div>
<div class="t" style="left:929.18px;top:489.61px;font-size:7.15px;line-height:7.15px;color:#666;">2025-09</div>
<div class="t" style="left:983.88px;top:489.61px;font-size:7.15px;line-height:7.15px;color:#666;">2025-12</div>
<div class="t" style="left:68.3px;top:8.9px;font-size:8.6px;line-height:8.6px;color:#666;">K</div>
<div class="t" style="left:87.8px;top:8.9px;font-size:8.6px;line-height:8.6px;color:#2478e0;">K</div>
<div class="t" style="left:108.5px;top:8.9px;font-size:8.6px;line-height:8.6px;color:#666;">K</div>
<div class="t" style="left:128.6px;top:8.9px;font-size:8.6px;line-height:8.6px;color:#666;">K</div>
<div class="t" style="left:148.5px;top:8.9px;font-size:8.6px;line-height:8.6px;color:#666;">K</div>
<div class="t" style="left:162.3px;top:9.2px;font-size:8.4px;line-height:8.4px;color:#666;transform:scaleX(0.83);transform-origin:0 50%;">120</div>
<div class="t" style="left:190px;top:9.2px;font-size:8.4px;line-height:8.4px;color:#666;transform:scaleX(0.83);transform-origin:0 50%;">60</div>
<div class="t" style="left:214px;top:9.2px;font-size:8.4px;line-height:8.4px;color:#666;transform:scaleX(0.83);transform-origin:0 50%;">30</div>
<div class="t" style="left:238px;top:9.2px;font-size:8.4px;line-height:8.4px;color:#666;transform:scaleX(0.83);transform-origin:0 50%;">15</div>
<div class="t" style="left:261.7px;top:9.2px;font-size:8.4px;line-height:8.4px;color:#666;transform:scaleX(0.83);transform-origin:0 50%;">5</div>
<div class="t" style="left:281px;top:9.2px;font-size:8.4px;line-height:8.4px;color:#666;transform:scaleX(0.83);transform-origin:0 50%;">1</div>
<div class="t b" style="left:32.2px;top:24.04px;font-size:6.88px;line-height:6.88px;color:#f7a735;">MA5:263.11</div>
<div class="t b" style="left:72.7px;top:24.04px;font-size:6.88px;line-height:6.88px;color:#3f87dc;">MA10:266.28</div>
<div class="t b" style="left:117px;top:24.04px;font-size:6.88px;line-height:6.88px;color:#e540cc;">MA20:274.74</div>
<div class="t b" style="left:161px;top:24.04px;font-size:6.88px;line-height:6.88px;color:#f77a55;">MA30:281.15</div>
<div class="t b" style="left:205.7px;top:24.04px;font-size:6.88px;line-height:6.88px;color:#52c792;">MA60:272.67</div>
</body></html>
